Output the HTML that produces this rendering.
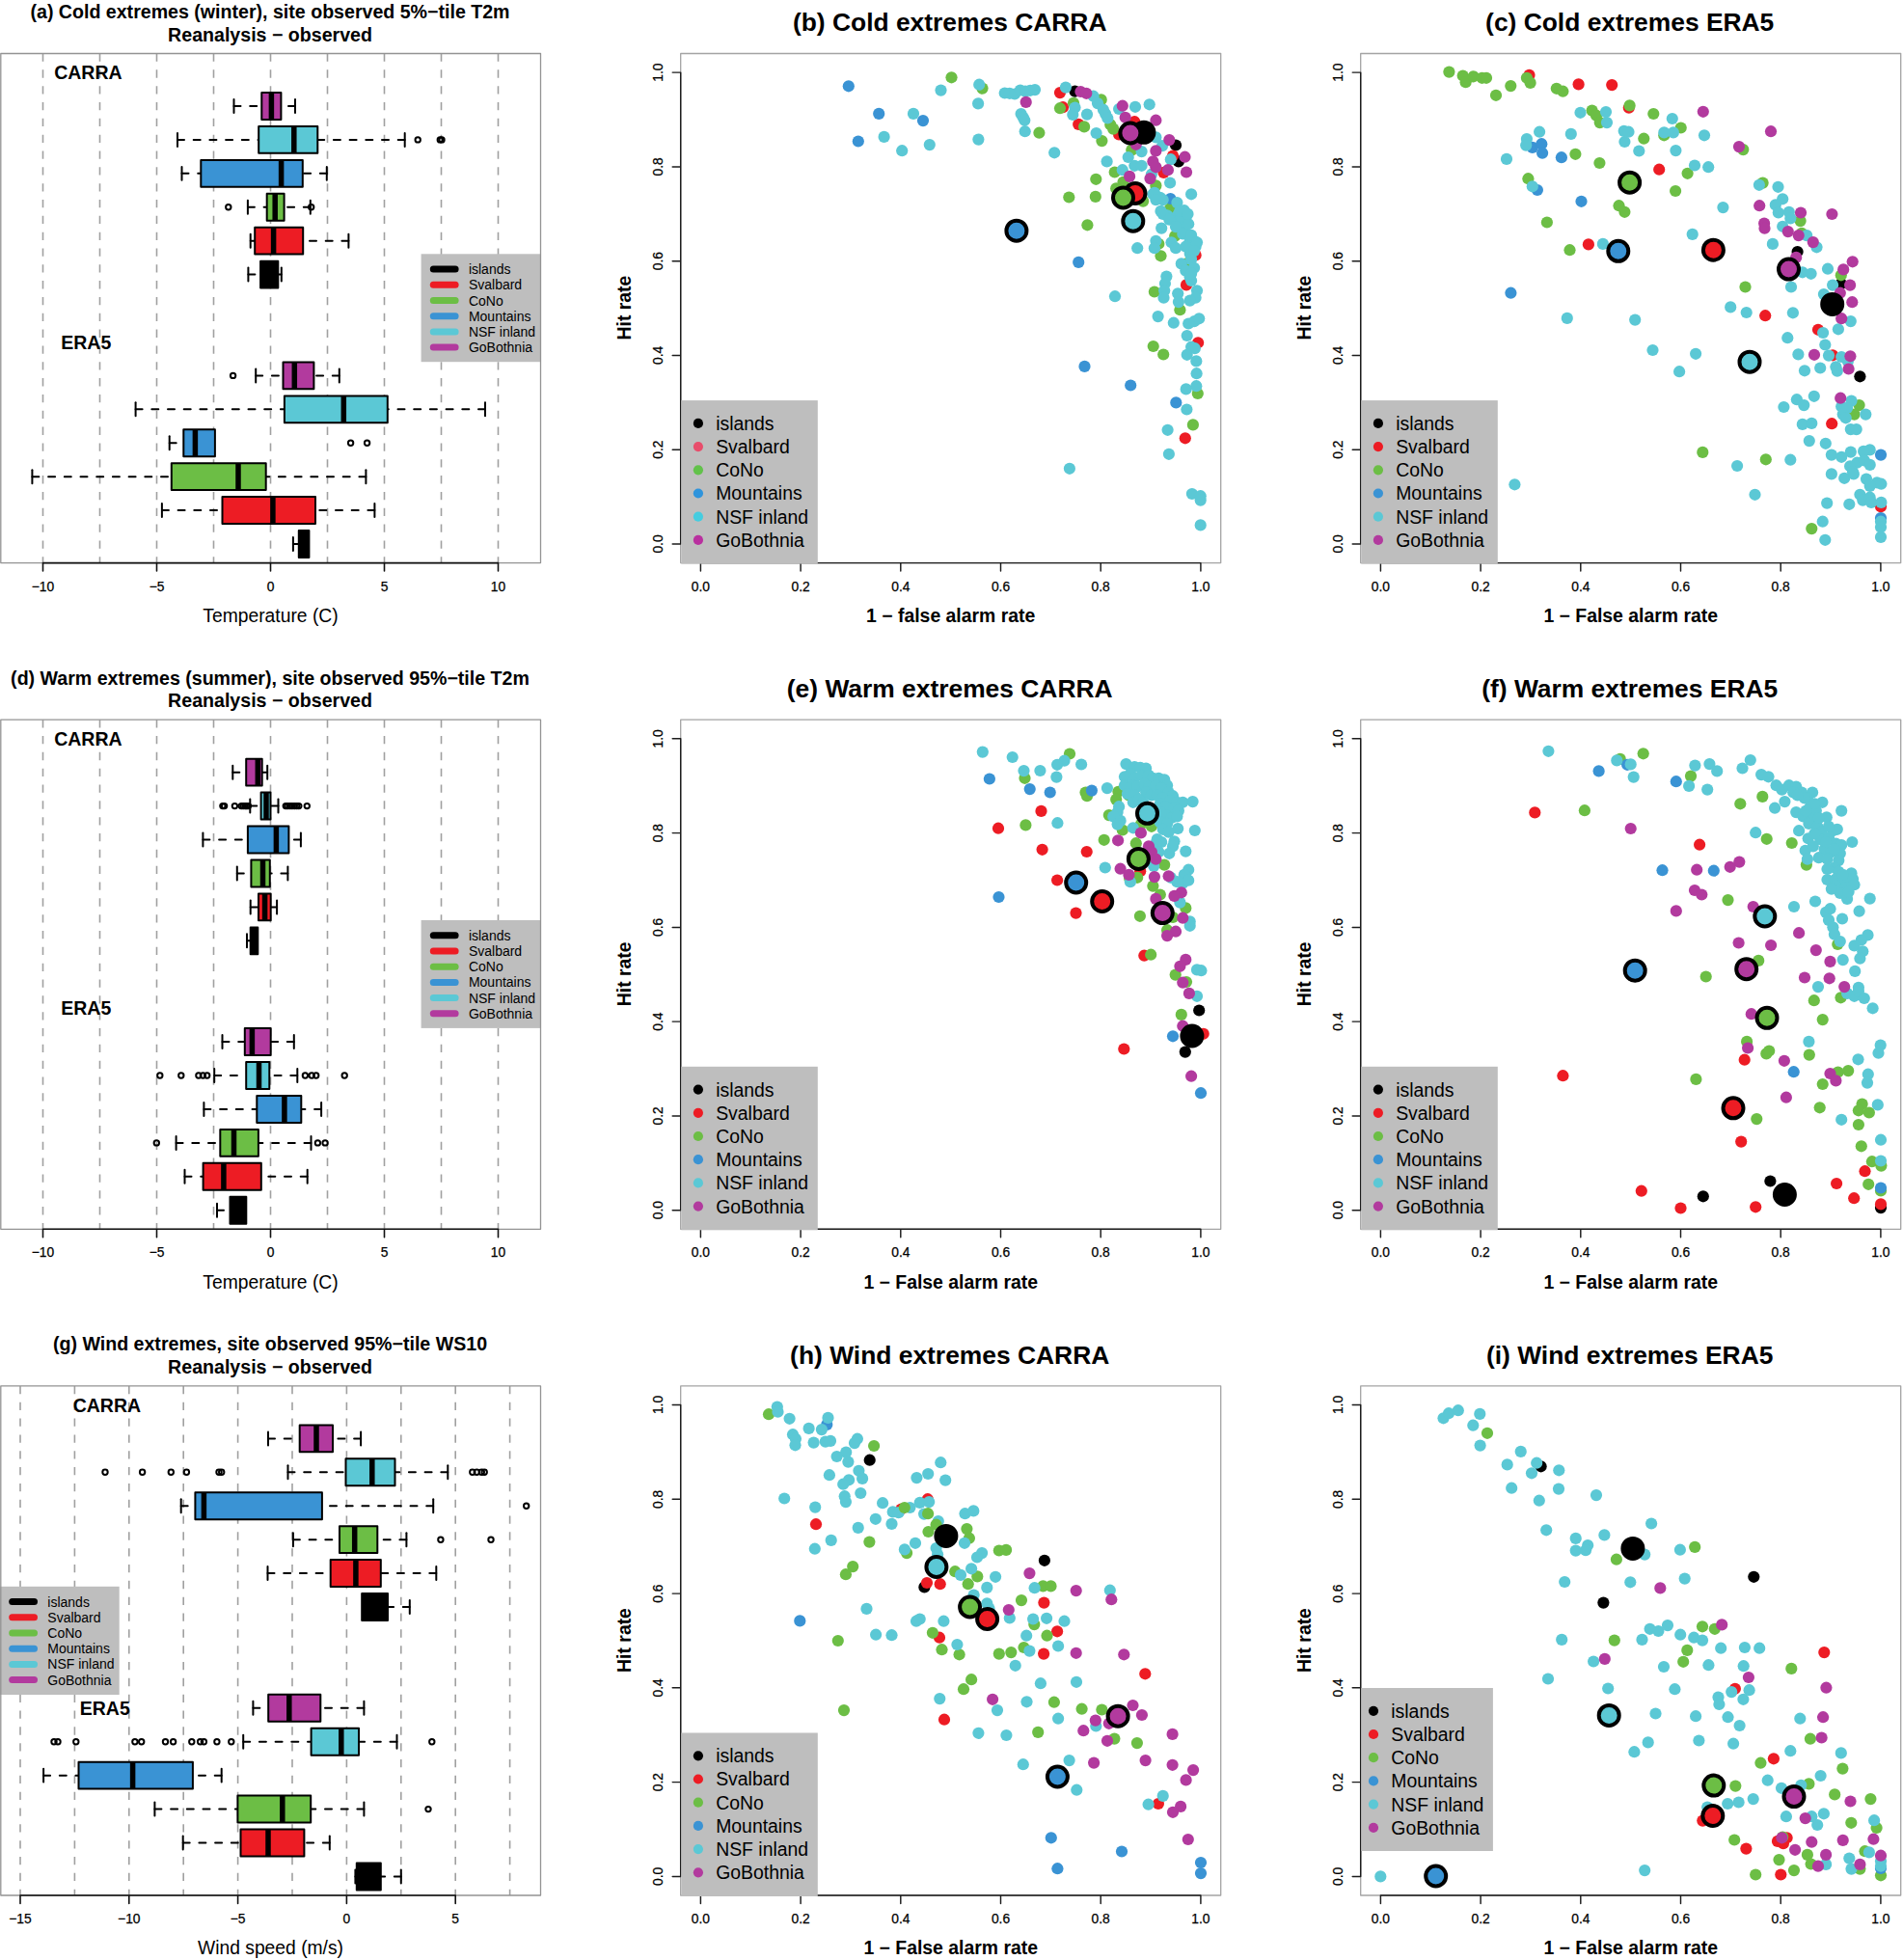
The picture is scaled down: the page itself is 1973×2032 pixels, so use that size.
<!DOCTYPE html>
<html lang="en"><head><meta charset="utf-8"><title>Extremes verification: CARRA vs ERA5</title>
<style>html,body{margin:0;padding:0;background:#fff}body{width:1973px;height:2032px;overflow:hidden}svg{display:block}text{font-family:"Liberation Sans", Arial, Helvetica, sans-serif;fill:#000}.b{font-weight:bold}.t1{font-size:19.6px;font-weight:bold;text-anchor:middle}.t2{font-size:26.4px;font-weight:bold;text-anchor:middle}.ax{font-size:13.8px;text-anchor:middle;stroke:#000;stroke-width:.25px}.xl{font-size:19.3px;text-anchor:middle}.bl{font-size:19.4px;font-weight:bold;text-anchor:middle}.l1{font-size:14px}.l2{font-size:19.4px}.lab{font-size:19.5px;font-weight:bold;text-anchor:middle}.gr{stroke:#a0a0a0;stroke-width:1.6;stroke-dasharray:8.3 8.53;fill:none}.bx{stroke:#000;stroke-width:2;stroke-linejoin:round}.md{stroke:#000;stroke-width:5.5;stroke-linecap:butt}.wh{stroke:#000;stroke-width:2;stroke-dasharray:7 9.7;stroke-linecap:round;fill:none}.st{stroke:#000;stroke-width:2;stroke-linecap:round}.ol{stroke:#000;stroke-width:2;fill:none}.fr{stroke:#a4a4a4;stroke-width:1.3;fill:none;stroke-linejoin:round}.fb{stroke:#939393;stroke-width:1.3;fill:none;stroke-linejoin:round}.al{stroke:#111;stroke-width:1.6;fill:none;stroke-linecap:round}.as{stroke:#1c1c1c;stroke-width:1.45;fill:none;stroke-linecap:round}.bg{stroke:#000;stroke-width:4}</style></head><body>
<svg width="1973" height="2032" viewBox="0 0 1973 2032">
<rect width="1973" height="2032" fill="#fff"/>
<g id="panel-a">
<text class="t1" x="280" y="19">(a) Cold extremes (winter), site observed 5%−tile T2m</text>
<text class="t1" x="280" y="42.5">Reanalysis − observed</text>
<path class="gr" d="M44.5 55.5V583.6M103.5 55.5V583.6M162.5 55.5V583.6M221.5 55.5V583.6M280.5 55.5V583.6M339.5 55.5V583.6M398.5 55.5V583.6M457.5 55.5V583.6M516.5 55.5V583.6"/>
<text class="lab" x="91.4" y="82.1">CARRA</text>
<text class="lab" x="89.3" y="361.5">ERA5</text>
<path class="wh" d="M242.5 110H271.3"/>
<path class="st" d="M242.5 103V117"/>
<path class="wh" d="M306 110H291.4"/>
<path class="st" d="M306 103V117"/>
<rect class="bx" x="271.3" y="96" width="20.1" height="27.9" fill="#b23a9e"/>
<path class="md" d="M281.4 96V124"/>
<path class="wh" d="M184 144.9H268.2"/>
<path class="st" d="M184 137.9V151.9"/>
<path class="wh" d="M419.7 144.9H329.4"/>
<path class="st" d="M419.7 137.9V151.9"/>
<rect class="bx" x="268.2" y="130.9" width="61.1" height="27.9" fill="#5bc8d5"/>
<path class="md" d="M304.8 130.9V158.9"/>
<circle class="ol" cx="433.2" cy="144.9" r="2.7"/>
<circle class="ol" cx="456.3" cy="144.9" r="2.7"/>
<circle class="ol" cx="458" cy="144.9" r="2.7"/>
<path class="wh" d="M188.5 179.8H208.3"/>
<path class="st" d="M188.5 172.9V186.8"/>
<path class="wh" d="M338.8 179.8H313.8"/>
<path class="st" d="M338.8 172.9V186.8"/>
<rect class="bx" x="208.3" y="165.9" width="105.5" height="27.9" fill="#3a93d4"/>
<path class="md" d="M291.6 165.9V193.8"/>
<path class="wh" d="M256.9 214.8H276.7"/>
<path class="st" d="M256.9 207.8V221.8"/>
<path class="wh" d="M321.8 214.8H294.7"/>
<path class="st" d="M321.8 207.8V221.8"/>
<rect class="bx" x="276.7" y="200.8" width="17.9" height="27.9" fill="#6cbe45"/>
<path class="md" d="M285.2 200.8V228.7"/>
<circle class="ol" cx="236.8" cy="214.8" r="2.7"/>
<circle class="ol" cx="322.7" cy="214.8" r="2.7"/>
<path class="wh" d="M259.7 249.7H264.2"/>
<path class="st" d="M259.7 242.7V256.7"/>
<path class="wh" d="M361.4 249.7H314.2"/>
<path class="st" d="M361.4 242.7V256.7"/>
<rect class="bx" x="264.2" y="235.7" width="50" height="27.9" fill="#ed1c24"/>
<path class="md" d="M283.6 235.7V263.7"/>
<path class="wh" d="M257.4 284.6H270.1"/>
<path class="st" d="M257.4 277.6V291.6"/>
<path class="wh" d="M291.8 284.6H288.3"/>
<path class="st" d="M291.8 277.6V291.6"/>
<rect class="bx" x="270.1" y="270.7" width="18.2" height="27.9" fill="#000000"/>
<path class="md" d="M279.3 270.7V298.6"/>
<path class="wh" d="M265.2 389.4H293.5"/>
<path class="st" d="M265.2 382.4V396.4"/>
<path class="wh" d="M351.8 389.4H325.3"/>
<path class="st" d="M351.8 382.4V396.4"/>
<rect class="bx" x="293.5" y="375.4" width="31.9" height="27.9" fill="#b23a9e"/>
<path class="md" d="M305.3 375.4V403.4"/>
<circle class="ol" cx="241.6" cy="389.4" r="2.7"/>
<path class="wh" d="M140.6 424.3H294.9"/>
<path class="st" d="M140.6 417.3V431.3"/>
<path class="wh" d="M503 424.3H401.8"/>
<path class="st" d="M503 417.3V431.3"/>
<rect class="bx" x="294.9" y="410.4" width="106.9" height="27.9" fill="#5bc8d5"/>
<path class="md" d="M356.3 410.4V438.3"/>
<path class="wh" d="M175.7 459.3H190.3"/>
<path class="st" d="M175.7 452.3V466.2"/>
<rect class="bx" x="190.3" y="445.3" width="32.6" height="27.9" fill="#3a93d4"/>
<path class="md" d="M202.4 445.3V473.2"/>
<circle class="ol" cx="363.6" cy="459.3" r="2.7"/>
<circle class="ol" cx="380.6" cy="459.3" r="2.7"/>
<path class="wh" d="M33.4 494.2H177.8"/>
<path class="st" d="M33.4 487.2V501.2"/>
<path class="wh" d="M379.4 494.2H275.8"/>
<path class="st" d="M379.4 487.2V501.2"/>
<rect class="bx" x="177.8" y="480.2" width="97.9" height="27.9" fill="#6cbe45"/>
<path class="md" d="M247 480.2V508.2"/>
<path class="wh" d="M167.9 529.1H230.5"/>
<path class="st" d="M167.9 522.1V536.1"/>
<path class="wh" d="M388.4 529.1H327"/>
<path class="st" d="M388.4 522.1V536.1"/>
<rect class="bx" x="230.5" y="515.1" width="96.5" height="27.9" fill="#ed1c24"/>
<path class="md" d="M282.9 515.1V543.1"/>
<path class="wh" d="M303.9 564H309.8"/>
<path class="st" d="M303.9 557.1V571"/>
<rect class="bx" x="309.8" y="550.1" width="10.6" height="27.9" fill="#000000"/>
<path class="md" d="M315.9 550.1V578"/>
<rect x="436.6" y="263.3" width="124.4" height="111.9" fill="#bebebe"/>
<path d="M449.3 279.1H472.1" stroke="#000000" stroke-width="7" stroke-linecap="round"/>
<text class="l1" x="485.9" y="284.1">islands</text>
<path d="M449.3 295.3H472.1" stroke="#ed1c24" stroke-width="7" stroke-linecap="round"/>
<text class="l1" x="485.9" y="300.3">Svalbard</text>
<path d="M449.3 311.5H472.1" stroke="#6cbe45" stroke-width="7" stroke-linecap="round"/>
<text class="l1" x="485.9" y="316.5">CoNo</text>
<path d="M449.3 327.7H472.1" stroke="#3a93d4" stroke-width="7" stroke-linecap="round"/>
<text class="l1" x="485.9" y="332.7">Mountains</text>
<path d="M449.3 343.9H472.1" stroke="#5bc8d5" stroke-width="7" stroke-linecap="round"/>
<text class="l1" x="485.9" y="348.9">NSF inland</text>
<path d="M449.3 360.1H472.1" stroke="#b23a9e" stroke-width="7" stroke-linecap="round"/>
<text class="l1" x="485.9" y="365.1">GoBothnia</text>
<rect class="fb" x="0.8" y="55.5" width="559.7" height="528.1"/>
<path class="al" d="M44.5 583.6H516.5M44.5 583.6v8.4M162.5 583.6v8.4M280.5 583.6v8.4M398.5 583.6v8.4M516.5 583.6v8.4"/>
<text class="ax" x="44.5" y="612.5">−10</text>
<text class="ax" x="162.5" y="612.5">−5</text>
<text class="ax" x="280.5" y="612.5">0</text>
<text class="ax" x="398.5" y="612.5">5</text>
<text class="ax" x="516.5" y="612.5">10</text>
<text class="xl" x="280.5" y="645">Temperature (C)</text>
</g>
<g id="panel-d">
<text class="t1" x="280" y="709.7">(d) Warm extremes (summer), site observed 95%−tile T2m</text>
<text class="t1" x="280" y="733.2">Reanalysis − observed</text>
<path class="gr" d="M44.5 746.2V1274.3M103.5 746.2V1274.3M162.5 746.2V1274.3M221.5 746.2V1274.3M280.5 746.2V1274.3M339.5 746.2V1274.3M398.5 746.2V1274.3M457.5 746.2V1274.3M516.5 746.2V1274.3"/>
<text class="lab" x="91.4" y="772.8">CARRA</text>
<text class="lab" x="89.3" y="1052.2">ERA5</text>
<path class="wh" d="M241.3 800.7H255.2"/>
<path class="st" d="M241.3 793.7V807.7"/>
<path class="wh" d="M277.2 800.7H271.8"/>
<path class="st" d="M277.2 793.7V807.7"/>
<rect class="bx" x="255.2" y="786.7" width="16.5" height="27.9" fill="#b23a9e"/>
<path class="md" d="M267.3 786.7V814.7"/>
<path class="wh" d="M259.3 835.6H270.6"/>
<path class="st" d="M259.3 828.6V842.6"/>
<path class="wh" d="M288.5 835.6H280.5"/>
<path class="st" d="M288.5 828.6V842.6"/>
<rect class="bx" x="270.6" y="821.6" width="9.9" height="27.9" fill="#5bc8d5"/>
<path class="md" d="M276 821.6V849.6"/>
<circle class="ol" cx="230.9" cy="835.6" r="2.7"/>
<circle class="ol" cx="232.6" cy="835.6" r="2.7"/>
<circle class="ol" cx="243.4" cy="835.6" r="2.7"/>
<circle class="ol" cx="250.3" cy="835.6" r="2.7"/>
<circle class="ol" cx="252.2" cy="835.6" r="2.7"/>
<circle class="ol" cx="254.1" cy="835.6" r="2.7"/>
<circle class="ol" cx="255.7" cy="835.6" r="2.7"/>
<circle class="ol" cx="257.4" cy="835.6" r="2.7"/>
<circle class="ol" cx="296.3" cy="835.6" r="2.7"/>
<circle class="ol" cx="298.2" cy="835.6" r="2.7"/>
<circle class="ol" cx="300.6" cy="835.6" r="2.7"/>
<circle class="ol" cx="302.9" cy="835.6" r="2.7"/>
<circle class="ol" cx="305.3" cy="835.6" r="2.7"/>
<circle class="ol" cx="307.6" cy="835.6" r="2.7"/>
<circle class="ol" cx="309.8" cy="835.6" r="2.7"/>
<circle class="ol" cx="318.3" cy="835.6" r="2.7"/>
<path class="wh" d="M210.4 870.5H256.9"/>
<path class="st" d="M210.4 863.6V877.5"/>
<path class="wh" d="M311.9 870.5H299.4"/>
<path class="st" d="M311.9 863.6V877.5"/>
<rect class="bx" x="256.9" y="856.6" width="42.5" height="27.9" fill="#3a93d4"/>
<path class="md" d="M286.4 856.6V884.5"/>
<path class="wh" d="M245.8 905.5H260.4"/>
<path class="st" d="M245.8 898.5V912.5"/>
<path class="wh" d="M298.4 905.5H279.8"/>
<path class="st" d="M298.4 898.5V912.5"/>
<rect class="bx" x="260.4" y="891.5" width="19.4" height="27.9" fill="#6cbe45"/>
<path class="md" d="M272.5 891.5V919.4"/>
<path class="wh" d="M259.7 940.4H268"/>
<path class="st" d="M259.7 933.4V947.4"/>
<path class="wh" d="M287.1 940.4H280.7"/>
<path class="st" d="M287.1 933.4V947.4"/>
<rect class="bx" x="268" y="926.4" width="12.7" height="27.9" fill="#ed1c24"/>
<path class="md" d="M274.6 926.4V954.4"/>
<path class="wh" d="M256 975.3H259.7"/>
<path class="st" d="M256 968.3V982.3"/>
<rect class="bx" x="259.7" y="961.4" width="7.6" height="27.9" fill="#000000"/>
<path class="md" d="M264 961.4V989.3"/>
<path class="wh" d="M230.5 1080.1H253.8"/>
<path class="st" d="M230.5 1073.1V1087.1"/>
<path class="wh" d="M304.8 1080.1H280.7"/>
<path class="st" d="M304.8 1073.1V1087.1"/>
<rect class="bx" x="253.8" y="1066.1" width="26.9" height="27.9" fill="#b23a9e"/>
<path class="md" d="M261.4 1066.1V1094.1"/>
<path class="wh" d="M222.2 1115H255.2"/>
<path class="st" d="M222.2 1108V1122"/>
<path class="wh" d="M308.3 1115H279.3"/>
<path class="st" d="M308.3 1108V1122"/>
<rect class="bx" x="255.2" y="1101.1" width="24.1" height="27.9" fill="#5bc8d5"/>
<path class="md" d="M268.5 1101.1V1129"/>
<circle class="ol" cx="165.8" cy="1115" r="2.7"/>
<circle class="ol" cx="187.8" cy="1115" r="2.7"/>
<circle class="ol" cx="205.9" cy="1115" r="2.7"/>
<circle class="ol" cx="210.4" cy="1115" r="2.7"/>
<circle class="ol" cx="214.7" cy="1115" r="2.7"/>
<circle class="ol" cx="316.4" cy="1115" r="2.7"/>
<circle class="ol" cx="323.2" cy="1115" r="2.7"/>
<circle class="ol" cx="327.7" cy="1115" r="2.7"/>
<circle class="ol" cx="357.2" cy="1115" r="2.7"/>
<path class="wh" d="M211.4 1150H266.3"/>
<path class="st" d="M211.4 1143V1156.9"/>
<path class="wh" d="M333.1 1150H312.4"/>
<path class="st" d="M333.1 1143V1156.9"/>
<rect class="bx" x="266.3" y="1136" width="46" height="27.9" fill="#3a93d4"/>
<path class="md" d="M294.9 1136V1163.9"/>
<path class="wh" d="M182.6 1184.9H228.3"/>
<path class="st" d="M182.6 1177.9V1191.9"/>
<path class="wh" d="M322.5 1184.9H268"/>
<path class="st" d="M322.5 1177.9V1191.9"/>
<rect class="bx" x="228.3" y="1170.9" width="39.6" height="27.9" fill="#6cbe45"/>
<path class="md" d="M242.5 1170.9V1198.9"/>
<circle class="ol" cx="162.3" cy="1184.9" r="2.7"/>
<circle class="ol" cx="329.4" cy="1184.9" r="2.7"/>
<circle class="ol" cx="337.1" cy="1184.9" r="2.7"/>
<path class="wh" d="M191.5 1219.8H210.6"/>
<path class="st" d="M191.5 1212.8V1226.8"/>
<path class="wh" d="M318.7 1219.8H270.8"/>
<path class="st" d="M318.7 1212.8V1226.8"/>
<rect class="bx" x="210.6" y="1205.8" width="60.2" height="27.9" fill="#ed1c24"/>
<path class="md" d="M231.9 1205.8V1233.8"/>
<path class="wh" d="M225 1254.7H238.5"/>
<path class="st" d="M225 1247.8V1261.7"/>
<rect class="bx" x="238.5" y="1240.8" width="16.8" height="27.9" fill="#000000"/>
<path class="md" d="M247.5 1240.8V1268.7"/>
<rect x="436.6" y="954" width="124.4" height="111.9" fill="#bebebe"/>
<path d="M449.3 969.8H472.1" stroke="#000000" stroke-width="7" stroke-linecap="round"/>
<text class="l1" x="485.9" y="974.8">islands</text>
<path d="M449.3 986H472.1" stroke="#ed1c24" stroke-width="7" stroke-linecap="round"/>
<text class="l1" x="485.9" y="991">Svalbard</text>
<path d="M449.3 1002.2H472.1" stroke="#6cbe45" stroke-width="7" stroke-linecap="round"/>
<text class="l1" x="485.9" y="1007.2">CoNo</text>
<path d="M449.3 1018.4H472.1" stroke="#3a93d4" stroke-width="7" stroke-linecap="round"/>
<text class="l1" x="485.9" y="1023.4">Mountains</text>
<path d="M449.3 1034.6H472.1" stroke="#5bc8d5" stroke-width="7" stroke-linecap="round"/>
<text class="l1" x="485.9" y="1039.6">NSF inland</text>
<path d="M449.3 1050.8H472.1" stroke="#b23a9e" stroke-width="7" stroke-linecap="round"/>
<text class="l1" x="485.9" y="1055.8">GoBothnia</text>
<rect class="fb" x="0.8" y="746.2" width="559.7" height="528.1"/>
<path class="al" d="M44.5 1274.3H516.5M44.5 1274.3v8.4M162.5 1274.3v8.4M280.5 1274.3v8.4M398.5 1274.3v8.4M516.5 1274.3v8.4"/>
<text class="ax" x="44.5" y="1303.2">−10</text>
<text class="ax" x="162.5" y="1303.2">−5</text>
<text class="ax" x="280.5" y="1303.2">0</text>
<text class="ax" x="398.5" y="1303.2">5</text>
<text class="ax" x="516.5" y="1303.2">10</text>
<text class="xl" x="280.5" y="1335.7">Temperature (C)</text>
</g>
<g id="panel-g">
<text class="t1" x="280" y="1400.4">(g) Wind extremes, site observed 95%−tile WS10</text>
<text class="t1" x="280" y="1423.9">Reanalysis − observed</text>
<path class="gr" d="M21 1436.9V1965M77.4 1436.9V1965M133.8 1436.9V1965M190.2 1436.9V1965M246.6 1436.9V1965M303 1436.9V1965M359.4 1436.9V1965M415.8 1436.9V1965M472.2 1436.9V1965M528.6 1436.9V1965"/>
<text class="lab" x="110.9" y="1463.5">CARRA</text>
<text class="lab" x="108.8" y="1777.8">ERA5</text>
<path class="wh" d="M278 1491.4H310.7"/>
<path class="st" d="M278 1484.4V1498.4"/>
<path class="wh" d="M374.1 1491.4H345"/>
<path class="st" d="M374.1 1484.4V1498.4"/>
<rect class="bx" x="310.7" y="1477.4" width="34.3" height="27.9" fill="#b23a9e"/>
<path class="md" d="M328 1477.4V1505.4"/>
<path class="wh" d="M298.5 1526.3H358.5"/>
<path class="st" d="M298.5 1519.3V1533.3"/>
<path class="wh" d="M464.3 1526.3H409.5"/>
<path class="st" d="M464.3 1519.3V1533.3"/>
<rect class="bx" x="358.5" y="1512.3" width="51" height="27.9" fill="#5bc8d5"/>
<path class="md" d="M385.8 1512.3V1540.3"/>
<circle class="ol" cx="109" cy="1526.3" r="2.7"/>
<circle class="ol" cx="147.6" cy="1526.3" r="2.7"/>
<circle class="ol" cx="177.3" cy="1526.3" r="2.7"/>
<circle class="ol" cx="193.4" cy="1526.3" r="2.7"/>
<circle class="ol" cx="227" cy="1526.3" r="2.7"/>
<circle class="ol" cx="229.7" cy="1526.3" r="2.7"/>
<circle class="ol" cx="489.8" cy="1526.3" r="2.7"/>
<circle class="ol" cx="494.3" cy="1526.3" r="2.7"/>
<circle class="ol" cx="499.3" cy="1526.3" r="2.7"/>
<circle class="ol" cx="502.2" cy="1526.3" r="2.7"/>
<path class="wh" d="M187.7 1561.2H202.4"/>
<path class="st" d="M187.7 1554.3V1568.2"/>
<path class="wh" d="M449.2 1561.2H333.9"/>
<path class="st" d="M449.2 1554.3V1568.2"/>
<rect class="bx" x="202.4" y="1547.3" width="131.5" height="27.9" fill="#3a93d4"/>
<path class="md" d="M211.4 1547.3V1575.2"/>
<circle class="ol" cx="545.7" cy="1561.2" r="2.7"/>
<path class="wh" d="M303.9 1596.2H352"/>
<path class="st" d="M303.9 1589.2V1603.2"/>
<path class="wh" d="M421.4 1596.2H391.2"/>
<path class="st" d="M421.4 1589.2V1603.2"/>
<rect class="bx" x="352" y="1582.2" width="39.3" height="27.9" fill="#6cbe45"/>
<path class="md" d="M367.7 1582.2V1610.1"/>
<circle class="ol" cx="456.9" cy="1596.2" r="2.7"/>
<circle class="ol" cx="509" cy="1596.2" r="2.7"/>
<path class="wh" d="M277.5 1631.1H342.7"/>
<path class="st" d="M277.5 1624.1V1638.1"/>
<path class="wh" d="M452.3 1631.1H394.8"/>
<path class="st" d="M452.3 1624.1V1638.1"/>
<rect class="bx" x="342.7" y="1617.1" width="52.1" height="27.9" fill="#ed1c24"/>
<path class="md" d="M368.9 1617.1V1645.1"/>
<path class="wh" d="M424.8 1666H402"/>
<path class="st" d="M424.8 1659V1673"/>
<rect class="bx" x="375.2" y="1652.1" width="26.8" height="27.9" fill="#000000"/>
<path class="md" d="M386.5 1652.1V1680"/>
<path class="wh" d="M262.4 1770.8H278.2"/>
<path class="st" d="M262.4 1763.8V1777.8"/>
<path class="wh" d="M377.4 1770.8H332.3"/>
<path class="st" d="M377.4 1763.8V1777.8"/>
<rect class="bx" x="278.2" y="1756.8" width="54.1" height="27.9" fill="#b23a9e"/>
<path class="md" d="M299.8 1756.8V1784.8"/>
<path class="wh" d="M252.2 1805.7H322.6"/>
<path class="st" d="M252.2 1798.7V1812.7"/>
<path class="wh" d="M411.5 1805.7H372"/>
<path class="st" d="M411.5 1798.7V1812.7"/>
<rect class="bx" x="322.6" y="1791.8" width="49.4" height="27.9" fill="#5bc8d5"/>
<path class="md" d="M353.8 1791.8V1819.7"/>
<circle class="ol" cx="56" cy="1805.7" r="2.7"/>
<circle class="ol" cx="60" cy="1805.7" r="2.7"/>
<circle class="ol" cx="78.8" cy="1805.7" r="2.7"/>
<circle class="ol" cx="139.9" cy="1805.7" r="2.7"/>
<circle class="ol" cx="146.7" cy="1805.7" r="2.7"/>
<circle class="ol" cx="171.5" cy="1805.7" r="2.7"/>
<circle class="ol" cx="179.6" cy="1805.7" r="2.7"/>
<circle class="ol" cx="198.8" cy="1805.7" r="2.7"/>
<circle class="ol" cx="207.6" cy="1805.7" r="2.7"/>
<circle class="ol" cx="211.4" cy="1805.7" r="2.7"/>
<circle class="ol" cx="224.9" cy="1805.7" r="2.7"/>
<circle class="ol" cx="239.8" cy="1805.7" r="2.7"/>
<circle class="ol" cx="447.8" cy="1805.7" r="2.7"/>
<path class="wh" d="M45.1 1840.7H81.5"/>
<path class="st" d="M45.1 1833.7V1847.6"/>
<path class="wh" d="M229.7 1840.7H199.9"/>
<path class="st" d="M229.7 1833.7V1847.6"/>
<rect class="bx" x="81.5" y="1826.7" width="118.4" height="27.9" fill="#3a93d4"/>
<path class="md" d="M137.6 1826.7V1854.6"/>
<path class="wh" d="M160.4 1875.6H246.4"/>
<path class="st" d="M160.4 1868.6V1882.6"/>
<path class="wh" d="M377.4 1875.6H322.2"/>
<path class="st" d="M377.4 1868.6V1882.6"/>
<rect class="bx" x="246.4" y="1861.6" width="75.8" height="27.9" fill="#6cbe45"/>
<path class="md" d="M292.8 1861.6V1889.6"/>
<circle class="ol" cx="444" cy="1875.6" r="2.7"/>
<path class="wh" d="M189.7 1910.5H249.5"/>
<path class="st" d="M189.7 1903.5V1917.5"/>
<path class="wh" d="M341.8 1910.5H315.4"/>
<path class="st" d="M341.8 1903.5V1917.5"/>
<rect class="bx" x="249.5" y="1896.5" width="65.9" height="27.9" fill="#ed1c24"/>
<path class="md" d="M278 1896.5V1924.5"/>
<path class="wh" d="M368.4 1945.4H369.8"/>
<path class="st" d="M368.4 1938.5V1952.4"/>
<path class="wh" d="M415.8 1945.4H394.8"/>
<path class="st" d="M415.8 1938.5V1952.4"/>
<rect class="bx" x="369.8" y="1931.5" width="25" height="27.9" fill="#000000"/>
<path class="md" d="M382 1931.5V1959.4"/>
<rect x="0" y="1644.8" width="123.7" height="112.2" fill="#bebebe"/>
<path d="M12.7 1660.6H35.5" stroke="#000000" stroke-width="7" stroke-linecap="round"/>
<text class="l1" x="49.3" y="1665.6">islands</text>
<path d="M12.7 1676.8H35.5" stroke="#ed1c24" stroke-width="7" stroke-linecap="round"/>
<text class="l1" x="49.3" y="1681.8">Svalbard</text>
<path d="M12.7 1693H35.5" stroke="#6cbe45" stroke-width="7" stroke-linecap="round"/>
<text class="l1" x="49.3" y="1698">CoNo</text>
<path d="M12.7 1709.2H35.5" stroke="#3a93d4" stroke-width="7" stroke-linecap="round"/>
<text class="l1" x="49.3" y="1714.2">Mountains</text>
<path d="M12.7 1725.4H35.5" stroke="#5bc8d5" stroke-width="7" stroke-linecap="round"/>
<text class="l1" x="49.3" y="1730.4">NSF inland</text>
<path d="M12.7 1741.6H35.5" stroke="#b23a9e" stroke-width="7" stroke-linecap="round"/>
<text class="l1" x="49.3" y="1746.6">GoBothnia</text>
<rect class="fb" x="0.8" y="1436.9" width="559.7" height="528.1"/>
<path class="al" d="M21 1965H472.2M21 1965v8.4M133.8 1965v8.4M246.6 1965v8.4M359.4 1965v8.4M472.2 1965v8.4"/>
<text class="ax" x="21" y="1993.9">−15</text>
<text class="ax" x="133.8" y="1993.9">−10</text>
<text class="ax" x="246.6" y="1993.9">−5</text>
<text class="ax" x="359.4" y="1993.9">0</text>
<text class="ax" x="472.2" y="1993.9">5</text>
<text class="xl" x="280.5" y="2026.4">Wind speed (m/s)</text>
</g>
<g id="panel-b">
<text class="t2" x="984.7" y="32.3">(b) Cold extremes CARRA</text>
<rect class="fr" x="705.7" y="55.5" width="560" height="528.1"/>
<path class="as" d="M726.4 583.6H1244.9M726.4 583.6v8.5M830.1 583.6v8.5M933.8 583.6v8.5M1037.5 583.6v8.5M1141.2 583.6v8.5M1244.9 583.6v8.5M705.7 564V75.1M705.7 564h-8.5M705.7 466.2h-8.5M705.7 368.4h-8.5M705.7 270.7h-8.5M705.7 172.9h-8.5M705.7 75.1h-8.5"/>
<g fill="#000000"><circle cx="1114.5" cy="94.6" r="6.1"/><circle cx="1219" cy="150.5" r="6.1"/><circle cx="1221.9" cy="167.4" r="6.1"/></g>
<g fill="#ed1c24"><circle cx="1099" cy="96.1" r="6.1"/><circle cx="1102" cy="111.2" r="6.1"/><circle cx="1118.2" cy="128.9" r="6.1"/><circle cx="1160.1" cy="139.5" r="6.1"/><circle cx="1176.3" cy="126.2" r="6.1"/><circle cx="1216" cy="161.5" r="6.1"/><circle cx="1206.5" cy="178.9" r="6.1"/><circle cx="1239.6" cy="264.5" r="6.1"/><circle cx="1230" cy="295.4" r="6.1"/><circle cx="1242.1" cy="355.3" r="6.1"/><circle cx="1228.8" cy="454.3" r="6.1"/></g>
<g fill="#6cbe45"><circle cx="986.5" cy="80.3" r="6.1"/><circle cx="1018.5" cy="91.6" r="6.1"/><circle cx="1077.4" cy="137.7" r="6.1"/><circle cx="1113" cy="106.8" r="6.1"/><circle cx="1099" cy="112.2" r="6.1"/><circle cx="1124.1" cy="131.4" r="6.1"/><circle cx="1141.7" cy="103.4" r="6.1"/><circle cx="1142.4" cy="146.1" r="6.1"/><circle cx="1151.3" cy="129.2" r="6.1"/><circle cx="1154.2" cy="133.6" r="6.1"/><circle cx="1173.3" cy="155.6" r="6.1"/><circle cx="1155.7" cy="178.5" r="6.1"/><circle cx="1136.3" cy="185.8" r="6.1"/><circle cx="1164.5" cy="188.8" r="6.1"/><circle cx="1198.4" cy="192.4" r="6.1"/><circle cx="1108.3" cy="204.5" r="6.1"/><circle cx="1135.8" cy="203.9" r="6.1"/><circle cx="1157.2" cy="195.4" r="6.1"/><circle cx="1185.1" cy="208.6" r="6.1"/><circle cx="1213.1" cy="216" r="6.1"/><circle cx="1127.4" cy="233.3" r="6.1"/><circle cx="1218.2" cy="244.7" r="6.1"/><circle cx="1201.3" cy="252.8" r="6.1"/><circle cx="1203.5" cy="265.3" r="6.1"/><circle cx="1230" cy="273.4" r="6.1"/><circle cx="1196.9" cy="302.5" r="6.1"/><circle cx="1223.4" cy="321.2" r="6.1"/><circle cx="1195.7" cy="359" r="6.1"/><circle cx="1206.2" cy="367.5" r="6.1"/><circle cx="1241.8" cy="408" r="6.1"/><circle cx="1236.9" cy="440.4" r="6.1"/></g>
<g fill="#3a93d4"><circle cx="1213.5" cy="206" r="6.1"/><circle cx="1118.2" cy="271.9" r="6.1"/><circle cx="1124.5" cy="379.9" r="6.1"/><circle cx="1172.2" cy="399.5" r="6.1"/><circle cx="1219.3" cy="417.4" r="6.1"/><circle cx="879.8" cy="89.3" r="6.1"/><circle cx="911.2" cy="117.9" r="6.1"/><circle cx="957" cy="125.1" r="6.1"/><circle cx="889.8" cy="146.5" r="6.1"/></g>
<g fill="#5bc8d5"><circle cx="1015.2" cy="87.7" r="6.1"/><circle cx="1014.1" cy="107.4" r="6.1"/><circle cx="1041.7" cy="96.5" r="6.1"/><circle cx="1046.8" cy="96.8" r="6.1"/><circle cx="1052" cy="97.5" r="6.1"/><circle cx="1057.8" cy="93.5" r="6.1"/><circle cx="1063" cy="94.6" r="6.1"/><circle cx="1068.1" cy="93.8" r="6.1"/><circle cx="1073" cy="93.1" r="6.1"/><circle cx="1058.6" cy="118.1" r="6.1"/><circle cx="1060.8" cy="121.8" r="6.1"/><circle cx="1062.3" cy="124.7" r="6.1"/><circle cx="1062.7" cy="136.2" r="6.1"/><circle cx="1014.4" cy="144.6" r="6.1"/><circle cx="1093.2" cy="158.3" r="6.1"/><circle cx="1104.9" cy="90.6" r="6.1"/><circle cx="1114.5" cy="111.5" r="6.1"/><circle cx="1112.3" cy="118.9" r="6.1"/><circle cx="1127" cy="118.6" r="6.1"/><circle cx="1133.6" cy="99.7" r="6.1"/><circle cx="1138" cy="107.1" r="6.1"/><circle cx="1143.9" cy="113.7" r="6.1"/><circle cx="1146.1" cy="118.1" r="6.1"/><circle cx="1148.3" cy="122.5" r="6.1"/><circle cx="1136.6" cy="138" r="6.1"/><circle cx="1177" cy="110.8" r="6.1"/><circle cx="1191.7" cy="108.3" r="6.1"/><circle cx="1160.1" cy="113" r="6.1"/><circle cx="1198.4" cy="142.4" r="6.1"/><circle cx="1205" cy="151.2" r="6.1"/><circle cx="1183.6" cy="157.1" r="6.1"/><circle cx="1213.8" cy="165.2" r="6.1"/><circle cx="1169.7" cy="163" r="6.1"/><circle cx="1147.6" cy="167.4" r="6.1"/><circle cx="1176.3" cy="171.8" r="6.1"/><circle cx="1183.6" cy="171.8" r="6.1"/><circle cx="1163.8" cy="176.2" r="6.1"/><circle cx="1193.9" cy="180.7" r="6.1"/><circle cx="1213.1" cy="189.5" r="6.1"/><circle cx="1235.1" cy="201.3" r="6.1"/><circle cx="1195.4" cy="201.3" r="6.1"/><circle cx="1202.8" cy="204.9" r="6.1"/><circle cx="1220.4" cy="210.1" r="6.1"/><circle cx="1203.5" cy="218.9" r="6.1"/><circle cx="1210.1" cy="223.3" r="6.1"/><circle cx="1216" cy="226.3" r="6.1"/><circle cx="1221.9" cy="221.9" r="6.1"/><circle cx="1227.8" cy="218.2" r="6.1"/><circle cx="1229.3" cy="224.8" r="6.1"/><circle cx="1226.3" cy="230.7" r="6.1"/><circle cx="1220.4" cy="230.7" r="6.1"/><circle cx="1204.2" cy="236.6" r="6.1"/><circle cx="1226.3" cy="238" r="6.1"/><circle cx="1232.2" cy="243.9" r="6.1"/><circle cx="1238.1" cy="249.8" r="6.1"/><circle cx="1235.1" cy="255.7" r="6.1"/><circle cx="1233.7" cy="263.1" r="6.1"/><circle cx="1198.4" cy="249.8" r="6.1"/><circle cx="1196.9" cy="257.2" r="6.1"/><circle cx="1214.5" cy="251.3" r="6.1"/><circle cx="1219" cy="257.2" r="6.1"/><circle cx="1179.2" cy="257.2" r="6.1"/><circle cx="1224.8" cy="273.4" r="6.1"/><circle cx="1229.3" cy="280.7" r="6.1"/><circle cx="1233.7" cy="287.3" r="6.1"/><circle cx="1235.1" cy="291" r="6.1"/><circle cx="1209.4" cy="286.6" r="6.1"/><circle cx="1207.9" cy="294" r="6.1"/><circle cx="1207.2" cy="301.3" r="6.1"/><circle cx="1206.5" cy="308.7" r="6.1"/><circle cx="1241" cy="301.3" r="6.1"/><circle cx="1239.6" cy="308.7" r="6.1"/><circle cx="1233.7" cy="311.6" r="6.1"/><circle cx="1221.2" cy="304.3" r="6.1"/><circle cx="1221.9" cy="313.1" r="6.1"/><circle cx="1156" cy="307.2" r="6.1"/><circle cx="1205.7" cy="221.9" r="6.1"/><circle cx="1212.3" cy="227.7" r="6.1"/><circle cx="1219" cy="235.1" r="6.1"/><circle cx="1224.8" cy="224.8" r="6.1"/><circle cx="1232.2" cy="232.2" r="6.1"/><circle cx="1226.3" cy="242.5" r="6.1"/><circle cx="1233.7" cy="249.8" r="6.1"/><circle cx="1239.6" cy="255.7" r="6.1"/><circle cx="1229.3" cy="255.7" r="6.1"/><circle cx="1235.1" cy="243.9" r="6.1"/><circle cx="1223.4" cy="218.9" r="6.1"/><circle cx="1231.5" cy="221.9" r="6.1"/><circle cx="1196.9" cy="199.8" r="6.1"/><circle cx="1205.7" cy="207.1" r="6.1"/><circle cx="1198.4" cy="207.1" r="6.1"/><circle cx="1241" cy="251.3" r="6.1"/><circle cx="1238.1" cy="260.1" r="6.1"/><circle cx="1235.1" cy="268.9" r="6.1"/><circle cx="1238.1" cy="277.8" r="6.1"/><circle cx="1235.1" cy="283.7" r="6.1"/><circle cx="1200.6" cy="328.1" r="6.1"/><circle cx="1216.8" cy="334.7" r="6.1"/><circle cx="1232.2" cy="335.5" r="6.1"/><circle cx="1238.1" cy="333.2" r="6.1"/><circle cx="1243.2" cy="330.3" r="6.1"/><circle cx="1230.7" cy="348" r="6.1"/><circle cx="1235.1" cy="359.7" r="6.1"/><circle cx="1238.8" cy="361.2" r="6.1"/><circle cx="1230.7" cy="367.8" r="6.1"/><circle cx="1240.3" cy="374.4" r="6.1"/><circle cx="1240.6" cy="387.2" r="6.1"/><circle cx="1240.3" cy="400.2" r="6.1"/><circle cx="1229.7" cy="403.4" r="6.1"/><circle cx="1230.4" cy="424.5" r="6.1"/><circle cx="1210.6" cy="445.8" r="6.1"/><circle cx="1211.9" cy="470.8" r="6.1"/><circle cx="1108.9" cy="485.8" r="6.1"/><circle cx="1235.9" cy="512" r="6.1"/><circle cx="1244.7" cy="514.2" r="6.1"/><circle cx="1244.7" cy="518.6" r="6.1"/><circle cx="1244.7" cy="544.4" r="6.1"/><circle cx="947" cy="117.9" r="6.1"/><circle cx="975.5" cy="93.6" r="6.1"/><circle cx="916.6" cy="141.9" r="6.1"/><circle cx="935.2" cy="156.2" r="6.1"/><circle cx="963.8" cy="150.1" r="6.1"/></g>
<g fill="#b23a9e"><circle cx="1063.7" cy="105.9" r="6.1"/><circle cx="1120.4" cy="95" r="6.1"/><circle cx="1126.3" cy="96.8" r="6.1"/><circle cx="1163.8" cy="109.7" r="6.1"/><circle cx="1166.7" cy="121.8" r="6.1"/><circle cx="1198.4" cy="124.7" r="6.1"/><circle cx="1212.3" cy="145.1" r="6.1"/><circle cx="1177.8" cy="149.8" r="6.1"/><circle cx="1198.4" cy="156.4" r="6.1"/><circle cx="1228.5" cy="162.7" r="6.1"/><circle cx="1195.4" cy="167.4" r="6.1"/><circle cx="1198.4" cy="173.3" r="6.1"/><circle cx="1171.1" cy="182.9" r="6.1"/><circle cx="1210.9" cy="176.2" r="6.1"/><circle cx="1230" cy="178.5" r="6.1"/><circle cx="1192.5" cy="185.1" r="6.1"/></g>
<circle class="bg" cx="1185.9" cy="137.3" r="10.5" fill="#000000"/>
<circle class="bg" cx="1177" cy="200.5" r="10.5" fill="#ed1c24"/>
<circle class="bg" cx="1164.5" cy="204.9" r="10.5" fill="#6cbe45"/>
<circle class="bg" cx="1053.9" cy="239.2" r="10.5" fill="#3a93d4"/>
<circle class="bg" cx="1174.8" cy="229.2" r="10.5" fill="#5bc8d5"/>
<circle class="bg" cx="1171.9" cy="138" r="10.5" fill="#b23a9e"/>
<rect x="706.3" y="415.1" width="141.5" height="169.5" fill="#bebebe"/>
<circle cx="723.9" cy="438.9" r="5.1" fill="#000000"/>
<text class="l2" x="742.2" y="445.8">islands</text>
<circle cx="723.9" cy="463.1" r="5.1" fill="#e84d6b"/>
<text class="l2" x="742.2" y="470">Svalbard</text>
<circle cx="723.9" cy="487.3" r="5.1" fill="#62c24a"/>
<text class="l2" x="742.2" y="494.2">CoNo</text>
<circle cx="723.9" cy="511.5" r="5.1" fill="#2f94dc"/>
<text class="l2" x="742.2" y="518.4">Mountains</text>
<circle cx="723.9" cy="535.7" r="5.1" fill="#45cde0"/>
<text class="l2" x="742.2" y="542.6">NSF inland</text>
<circle cx="723.9" cy="559.9" r="5.1" fill="#b9309f"/>
<text class="l2" x="742.2" y="566.8">GoBothnia</text>
<text class="ax" x="726.4" y="612.5">0.0</text>
<text class="ax" transform="translate(687.4 564) rotate(-90)">0.0</text>
<text class="ax" x="830.1" y="612.5">0.2</text>
<text class="ax" transform="translate(687.4 466.2) rotate(-90)">0.2</text>
<text class="ax" x="933.8" y="612.5">0.4</text>
<text class="ax" transform="translate(687.4 368.4) rotate(-90)">0.4</text>
<text class="ax" x="1037.5" y="612.5">0.6</text>
<text class="ax" transform="translate(687.4 270.7) rotate(-90)">0.6</text>
<text class="ax" x="1141.2" y="612.5">0.8</text>
<text class="ax" transform="translate(687.4 172.9) rotate(-90)">0.8</text>
<text class="ax" x="1244.9" y="612.5">1.0</text>
<text class="ax" transform="translate(687.4 75.1) rotate(-90)">1.0</text>
<text class="bl" x="985.7" y="645">1 − false alarm rate</text>
<text class="bl" transform="translate(653.9 319.1) rotate(-90)">Hit rate</text>
</g>
<g id="panel-c">
<text class="t2" x="1689.7" y="32.3">(c) Cold extremes ERA5</text>
<rect class="fr" x="1410.7" y="55.5" width="560" height="528.1"/>
<path class="as" d="M1431.4 583.6H1949.9M1431.4 583.6v8.5M1535.1 583.6v8.5M1638.8 583.6v8.5M1742.5 583.6v8.5M1846.2 583.6v8.5M1949.9 583.6v8.5M1410.7 564V75.1M1410.7 564h-8.5M1410.7 466.2h-8.5M1410.7 368.4h-8.5M1410.7 270.7h-8.5M1410.7 172.9h-8.5M1410.7 75.1h-8.5"/>
<g fill="#000000"><circle cx="1863.6" cy="261" r="6.1"/><circle cx="1908.8" cy="294.1" r="6.1"/><circle cx="1928.4" cy="390.3" r="6.1"/></g>
<g fill="#ed1c24"><circle cx="1585.5" cy="77.8" r="6.1"/><circle cx="1636.6" cy="87.4" r="6.1"/><circle cx="1671.2" cy="88.1" r="6.1"/><circle cx="1688.8" cy="111.7" r="6.1"/><circle cx="1646.9" cy="253.4" r="6.1"/><circle cx="1720.2" cy="175.7" r="6.1"/><circle cx="1830.2" cy="327.2" r="6.1"/><circle cx="1885" cy="341.8" r="6.1"/><circle cx="1900.1" cy="368.3" r="6.1"/><circle cx="1899.2" cy="439.2" r="6.1"/><circle cx="1950" cy="525.3" r="6.1"/></g>
<g fill="#6cbe45"><circle cx="1502.4" cy="74.6" r="6.1"/><circle cx="1516.7" cy="78.5" r="6.1"/><circle cx="1519.6" cy="85.2" r="6.1"/><circle cx="1527.7" cy="79.3" r="6.1"/><circle cx="1536.5" cy="80.8" r="6.1"/><circle cx="1541" cy="80.8" r="6.1"/><circle cx="1582.9" cy="80.8" r="6.1"/><circle cx="1586.6" cy="85.9" r="6.1"/><circle cx="1566.3" cy="89.1" r="6.1"/><circle cx="1551" cy="98.8" r="6.1"/><circle cx="1613.8" cy="91.8" r="6.1"/><circle cx="1620.4" cy="94.7" r="6.1"/><circle cx="1650.6" cy="114.6" r="6.1"/><circle cx="1655" cy="119.7" r="6.1"/><circle cx="1658.7" cy="127.1" r="6.1"/><circle cx="1689.6" cy="109.4" r="6.1"/><circle cx="1633.4" cy="159.8" r="6.1"/><circle cx="1658.4" cy="169" r="6.1"/><circle cx="1584.4" cy="185.2" r="6.1"/><circle cx="1678.5" cy="213.2" r="6.1"/><circle cx="1684.4" cy="219.8" r="6.1"/><circle cx="1603.9" cy="230.5" r="6.1"/><circle cx="1627.5" cy="259.2" r="6.1"/><circle cx="1714.3" cy="118" r="6.1"/><circle cx="1742.7" cy="132.5" r="6.1"/><circle cx="1725.3" cy="140.3" r="6.1"/><circle cx="1704.3" cy="143.7" r="6.1"/><circle cx="1807.3" cy="155.1" r="6.1"/><circle cx="1749.6" cy="179.8" r="6.1"/><circle cx="1737.1" cy="198" r="6.1"/><circle cx="1827.6" cy="189.6" r="6.1"/><circle cx="1866.6" cy="229.1" r="6.1"/><circle cx="1868" cy="241.9" r="6.1"/><circle cx="1908.8" cy="285.3" r="6.1"/><circle cx="1809.5" cy="297.5" r="6.1"/><circle cx="1927.6" cy="420.1" r="6.1"/><circle cx="1922.5" cy="429.6" r="6.1"/><circle cx="1765.3" cy="468.9" r="6.1"/><circle cx="1830.8" cy="476.3" r="6.1"/><circle cx="1878.3" cy="548.1" r="6.1"/></g>
<g fill="#3a93d4"><circle cx="1588.8" cy="152.9" r="6.1"/><circle cx="1598.3" cy="149.2" r="6.1"/><circle cx="1599.1" cy="158.7" r="6.1"/><circle cx="1618.9" cy="163.2" r="6.1"/><circle cx="1593.9" cy="197" r="6.1"/><circle cx="1639.5" cy="208.8" r="6.1"/><circle cx="1566.4" cy="303.7" r="6.1"/><circle cx="1950" cy="471.6" r="6.1"/><circle cx="1950" cy="537" r="6.1"/></g>
<g fill="#5bc8d5"><circle cx="1638.5" cy="116.8" r="6.1"/><circle cx="1665" cy="116.1" r="6.1"/><circle cx="1666" cy="127.1" r="6.1"/><circle cx="1596.1" cy="136.7" r="6.1"/><circle cx="1582.9" cy="144" r="6.1"/><circle cx="1582.2" cy="150.6" r="6.1"/><circle cx="1628.8" cy="138.9" r="6.1"/><circle cx="1683.7" cy="135.9" r="6.1"/><circle cx="1684.4" cy="147" r="6.1"/><circle cx="1562" cy="164.9" r="6.1"/><circle cx="1588.8" cy="193.3" r="6.1"/><circle cx="1661.9" cy="252.9" r="6.1"/><circle cx="1624.8" cy="329.9" r="6.1"/><circle cx="1570.4" cy="502.3" r="6.1"/><circle cx="1733.8" cy="123" r="6.1"/><circle cx="1725.3" cy="137.4" r="6.1"/><circle cx="1734.9" cy="137.4" r="6.1"/><circle cx="1767" cy="140.3" r="6.1"/><circle cx="1688.5" cy="136.7" r="6.1"/><circle cx="1699.3" cy="156.5" r="6.1"/><circle cx="1737.4" cy="156.1" r="6.1"/><circle cx="1757" cy="171.5" r="6.1"/><circle cx="1771.2" cy="173.2" r="6.1"/><circle cx="1823.9" cy="191.8" r="6.1"/><circle cx="1843.5" cy="193.8" r="6.1"/><circle cx="1786.4" cy="215.1" r="6.1"/><circle cx="1848.2" cy="206.3" r="6.1"/><circle cx="1840.8" cy="212.4" r="6.1"/><circle cx="1843.8" cy="220.5" r="6.1"/><circle cx="1854.8" cy="219.8" r="6.1"/><circle cx="1856.3" cy="226.4" r="6.1"/><circle cx="1848.2" cy="234.8" r="6.1"/><circle cx="1873.2" cy="244.1" r="6.1"/><circle cx="1883.5" cy="256.3" r="6.1"/><circle cx="1754.7" cy="242.9" r="6.1"/><circle cx="1837.9" cy="252.9" r="6.1"/><circle cx="1868.8" cy="282.3" r="6.1"/><circle cx="1877.6" cy="283.8" r="6.1"/><circle cx="1895" cy="278.7" r="6.1"/><circle cx="1900.1" cy="295.6" r="6.1"/><circle cx="1857" cy="297.5" r="6.1"/><circle cx="1890.9" cy="305.1" r="6.1"/><circle cx="1794.2" cy="318.4" r="6.1"/><circle cx="1810.7" cy="324" r="6.1"/><circle cx="1858.9" cy="324.3" r="6.1"/><circle cx="1918.8" cy="333.1" r="6.1"/><circle cx="1695.2" cy="331.6" r="6.1"/><circle cx="1890.1" cy="345" r="6.1"/><circle cx="1905.9" cy="341.3" r="6.1"/><circle cx="1853.3" cy="350.2" r="6.1"/><circle cx="1892.3" cy="357.5" r="6.1"/><circle cx="1713.5" cy="363" r="6.1"/><circle cx="1758.1" cy="366.8" r="6.1"/><circle cx="1864.4" cy="367.4" r="6.1"/><circle cx="1896" cy="368.6" r="6.1"/><circle cx="1909.2" cy="370" r="6.1"/><circle cx="1915.9" cy="374.4" r="6.1"/><circle cx="1741.1" cy="385.2" r="6.1"/><circle cx="1871" cy="384.3" r="6.1"/><circle cx="1887.2" cy="381.5" r="6.1"/><circle cx="1903.4" cy="380.3" r="6.1"/><circle cx="1904.8" cy="384.7" r="6.1"/><circle cx="1880.8" cy="410.8" r="6.1"/><circle cx="1862.9" cy="414.2" r="6.1"/><circle cx="1870.3" cy="420.1" r="6.1"/><circle cx="1849.4" cy="422" r="6.1"/><circle cx="1919.5" cy="415.6" r="6.1"/><circle cx="1909.2" cy="421.5" r="6.1"/><circle cx="1915.1" cy="423" r="6.1"/><circle cx="1910.7" cy="429.6" r="6.1"/><circle cx="1913.7" cy="433.3" r="6.1"/><circle cx="1934.3" cy="429.6" r="6.1"/><circle cx="1868.8" cy="439.9" r="6.1"/><circle cx="1878.3" cy="438.9" r="6.1"/><circle cx="1918.8" cy="445.1" r="6.1"/><circle cx="1924.7" cy="445.1" r="6.1"/><circle cx="1875.8" cy="457.1" r="6.1"/><circle cx="1892.8" cy="459.8" r="6.1"/><circle cx="1938.7" cy="466.4" r="6.1"/><circle cx="1932.1" cy="467.9" r="6.1"/><circle cx="1918.8" cy="468.6" r="6.1"/><circle cx="1898.9" cy="471.6" r="6.1"/><circle cx="1909.2" cy="473.8" r="6.1"/><circle cx="1856.3" cy="476.7" r="6.1"/><circle cx="1801.1" cy="483" r="6.1"/><circle cx="1925.4" cy="479.7" r="6.1"/><circle cx="1932.8" cy="477.4" r="6.1"/><circle cx="1938.7" cy="481.9" r="6.1"/><circle cx="1918.1" cy="483.3" r="6.1"/><circle cx="1921" cy="489.2" r="6.1"/><circle cx="1898.9" cy="491.4" r="6.1"/><circle cx="1912.2" cy="495.8" r="6.1"/><circle cx="1921.8" cy="491.4" r="6.1"/><circle cx="1935" cy="496.6" r="6.1"/><circle cx="1946" cy="500.3" r="6.1"/><circle cx="1950.4" cy="501.7" r="6.1"/><circle cx="1938.7" cy="503.9" r="6.1"/><circle cx="1819.5" cy="512.8" r="6.1"/><circle cx="1928.4" cy="512.8" r="6.1"/><circle cx="1931.3" cy="518.6" r="6.1"/><circle cx="1938.7" cy="515.7" r="6.1"/><circle cx="1940.1" cy="520.9" r="6.1"/><circle cx="1950.4" cy="520.9" r="6.1"/><circle cx="1894.2" cy="521.6" r="6.1"/><circle cx="1917.3" cy="522.8" r="6.1"/><circle cx="1950" cy="540.7" r="6.1"/><circle cx="1950" cy="546.6" r="6.1"/><circle cx="1889.7" cy="540.7" r="6.1"/><circle cx="1950" cy="556.9" r="6.1"/><circle cx="1892.3" cy="559.8" r="6.1"/></g>
<g fill="#b23a9e"><circle cx="1765.8" cy="115.8" r="6.1"/><circle cx="1803" cy="152.1" r="6.1"/><circle cx="1836" cy="136.2" r="6.1"/><circle cx="1824.2" cy="213.2" r="6.1"/><circle cx="1867" cy="220.5" r="6.1"/><circle cx="1899.4" cy="222" r="6.1"/><circle cx="1829.1" cy="231.6" r="6.1"/><circle cx="1829.5" cy="236.7" r="6.1"/><circle cx="1853.8" cy="240.1" r="6.1"/><circle cx="1864.7" cy="244.1" r="6.1"/><circle cx="1879.8" cy="251.1" r="6.1"/><circle cx="1862.2" cy="266.9" r="6.1"/><circle cx="1920.7" cy="271.3" r="6.1"/><circle cx="1911.2" cy="279.4" r="6.1"/><circle cx="1918.1" cy="295.6" r="6.1"/><circle cx="1907.8" cy="303.7" r="6.1"/><circle cx="1920.3" cy="313.2" r="6.1"/><circle cx="1909.2" cy="330.2" r="6.1"/><circle cx="1881" cy="367.8" r="6.1"/><circle cx="1918.4" cy="369.3" r="6.1"/><circle cx="1916.6" cy="382.5" r="6.1"/><circle cx="1908.2" cy="412.7" r="6.1"/></g>
<circle class="bg" cx="1899.7" cy="315.4" r="10.5" fill="#000000"/>
<circle class="bg" cx="1776.4" cy="259.2" r="10.5" fill="#ed1c24"/>
<circle class="bg" cx="1689.6" cy="189.2" r="10.5" fill="#6cbe45"/>
<circle class="bg" cx="1677.8" cy="260.3" r="10.5" fill="#3a93d4"/>
<circle class="bg" cx="1814" cy="375.2" r="10.5" fill="#5bc8d5"/>
<circle class="bg" cx="1854.5" cy="279.1" r="10.5" fill="#b23a9e"/>
<rect x="1411.3" y="415.1" width="141.5" height="169.5" fill="#bebebe"/>
<circle cx="1428.9" cy="438.9" r="5.1" fill="#000000"/>
<text class="l2" x="1447.2" y="445.8">islands</text>
<circle cx="1428.9" cy="463.1" r="5.1" fill="#ed1c24"/>
<text class="l2" x="1447.2" y="470">Svalbard</text>
<circle cx="1428.9" cy="487.3" r="5.1" fill="#6cbe45"/>
<text class="l2" x="1447.2" y="494.2">CoNo</text>
<circle cx="1428.9" cy="511.5" r="5.1" fill="#3a93d4"/>
<text class="l2" x="1447.2" y="518.4">Mountains</text>
<circle cx="1428.9" cy="535.7" r="5.1" fill="#5bc8d5"/>
<text class="l2" x="1447.2" y="542.6">NSF inland</text>
<circle cx="1428.9" cy="559.9" r="5.1" fill="#b23a9e"/>
<text class="l2" x="1447.2" y="566.8">GoBothnia</text>
<text class="ax" x="1431.4" y="612.5">0.0</text>
<text class="ax" transform="translate(1392.4 564) rotate(-90)">0.0</text>
<text class="ax" x="1535.1" y="612.5">0.2</text>
<text class="ax" transform="translate(1392.4 466.2) rotate(-90)">0.2</text>
<text class="ax" x="1638.8" y="612.5">0.4</text>
<text class="ax" transform="translate(1392.4 368.4) rotate(-90)">0.4</text>
<text class="ax" x="1742.5" y="612.5">0.6</text>
<text class="ax" transform="translate(1392.4 270.7) rotate(-90)">0.6</text>
<text class="ax" x="1846.2" y="612.5">0.8</text>
<text class="ax" transform="translate(1392.4 172.9) rotate(-90)">0.8</text>
<text class="ax" x="1949.9" y="612.5">1.0</text>
<text class="ax" transform="translate(1392.4 75.1) rotate(-90)">1.0</text>
<text class="bl" x="1690.7" y="645">1 − False alarm rate</text>
<text class="bl" transform="translate(1358.9 319.1) rotate(-90)">Hit rate</text>
</g>
<g id="panel-e">
<text class="t2" x="984.7" y="723">(e) Warm extremes CARRA</text>
<rect class="fr" x="705.7" y="746.2" width="560" height="528.1"/>
<path class="as" d="M726.4 1274.3H1244.9M726.4 1274.3v8.5M830.1 1274.3v8.5M933.8 1274.3v8.5M1037.5 1274.3v8.5M1141.2 1274.3v8.5M1244.9 1274.3v8.5M705.7 1254.7V765.8M705.7 1254.7h-8.5M705.7 1156.9h-8.5M705.7 1059.1h-8.5M705.7 961.4h-8.5M705.7 863.6h-8.5M705.7 765.8h-8.5"/>
<g fill="#000000"><circle cx="1243.2" cy="1047.5" r="6.1"/><circle cx="1228.8" cy="1090.6" r="6.1"/></g>
<g fill="#ed1c24"><circle cx="1079.5" cy="840.9" r="6.1"/><circle cx="1035" cy="858.7" r="6.1"/><circle cx="1191" cy="886.3" r="6.1"/><circle cx="1080.6" cy="880.8" r="6.1"/><circle cx="1126.7" cy="883" r="6.1"/><circle cx="1182.2" cy="903.2" r="6.1"/><circle cx="1096.1" cy="912.5" r="6.1"/><circle cx="1115.5" cy="946.6" r="6.1"/><circle cx="1186.3" cy="990.7" r="6.1"/><circle cx="1247.7" cy="1071.8" r="6.1"/><circle cx="1165.3" cy="1087.5" r="6.1"/></g>
<g fill="#6cbe45"><circle cx="1109" cy="781.5" r="6.1"/><circle cx="1062.5" cy="806.8" r="6.1"/><circle cx="1125.5" cy="821.5" r="6.1"/><circle cx="1127" cy="825.2" r="6.1"/><circle cx="1063.4" cy="855.4" r="6.1"/><circle cx="1159.4" cy="820.8" r="6.1"/><circle cx="1157.2" cy="828.9" r="6.1"/><circle cx="1170.4" cy="824.5" r="6.1"/><circle cx="1149.8" cy="845.1" r="6.1"/><circle cx="1208.7" cy="831.8" r="6.1"/><circle cx="1213.1" cy="840.6" r="6.1"/><circle cx="1182.9" cy="854.6" r="6.1"/><circle cx="1193.9" cy="856.8" r="6.1"/><circle cx="1163.8" cy="860.5" r="6.1"/><circle cx="1144.7" cy="870.8" r="6.1"/><circle cx="1177.8" cy="874.2" r="6.1"/><circle cx="1207.2" cy="896.6" r="6.1"/><circle cx="1171.1" cy="910.5" r="6.1"/><circle cx="1179.2" cy="909.8" r="6.1"/><circle cx="1195.4" cy="918.6" r="6.1"/><circle cx="1202.8" cy="927.5" r="6.1"/><circle cx="1229.3" cy="941.4" r="6.1"/><circle cx="1181.9" cy="949.8" r="6.1"/><circle cx="1216" cy="951" r="6.1"/><circle cx="1210.1" cy="964.2" r="6.1"/><circle cx="1193.2" cy="989.7" r="6.1"/><circle cx="1218.7" cy="1010.6" r="6.1"/><circle cx="1230" cy="1018" r="6.1"/><circle cx="1224.8" cy="1051.9" r="6.1"/></g>
<g fill="#3a93d4"><circle cx="1025.9" cy="807.5" r="6.1"/><circle cx="1067.7" cy="818.1" r="6.1"/><circle cx="1088.7" cy="821.5" r="6.1"/><circle cx="1131.9" cy="819.6" r="6.1"/><circle cx="1035.5" cy="930" r="6.1"/><circle cx="1216" cy="1074.3" r="6.1"/><circle cx="1245" cy="1133.2" r="6.1"/></g>
<g fill="#5bc8d5"><circle cx="1018.8" cy="779.6" r="6.1"/><circle cx="1049.7" cy="785" r="6.1"/><circle cx="1103.5" cy="788.7" r="6.1"/><circle cx="1096.1" cy="792.8" r="6.1"/><circle cx="1121.1" cy="792.5" r="6.1"/><circle cx="1061.5" cy="799.1" r="6.1"/><circle cx="1078.4" cy="799" r="6.1"/><circle cx="1095.4" cy="805.6" r="6.1"/><circle cx="1147.9" cy="817.1" r="6.1"/><circle cx="1096.4" cy="853.2" r="6.1"/><circle cx="1167.5" cy="792.1" r="6.1"/><circle cx="1176.3" cy="795" r="6.1"/><circle cx="1182.2" cy="795.8" r="6.1"/><circle cx="1188.1" cy="796.5" r="6.1"/><circle cx="1166" cy="805.3" r="6.1"/><circle cx="1171.9" cy="802.4" r="6.1"/><circle cx="1176.3" cy="806.8" r="6.1"/><circle cx="1183.6" cy="803.9" r="6.1"/><circle cx="1191" cy="803.9" r="6.1"/><circle cx="1195.4" cy="806.8" r="6.1"/><circle cx="1201.3" cy="806.8" r="6.1"/><circle cx="1207.2" cy="808.3" r="6.1"/><circle cx="1210.1" cy="814.2" r="6.1"/><circle cx="1166" cy="814.2" r="6.1"/><circle cx="1173.3" cy="814.2" r="6.1"/><circle cx="1179.2" cy="815.6" r="6.1"/><circle cx="1186.6" cy="812.7" r="6.1"/><circle cx="1191" cy="815.6" r="6.1"/><circle cx="1198.4" cy="814.2" r="6.1"/><circle cx="1204.2" cy="817.1" r="6.1"/><circle cx="1211.6" cy="821.5" r="6.1"/><circle cx="1216" cy="825.2" r="6.1"/><circle cx="1168.9" cy="823" r="6.1"/><circle cx="1176.3" cy="824.5" r="6.1"/><circle cx="1188.1" cy="821.5" r="6.1"/><circle cx="1193.9" cy="824.5" r="6.1"/><circle cx="1199.8" cy="824.5" r="6.1"/><circle cx="1205.7" cy="827.4" r="6.1"/><circle cx="1213.1" cy="830.3" r="6.1"/><circle cx="1220.4" cy="831.8" r="6.1"/><circle cx="1226.3" cy="831.8" r="6.1"/><circle cx="1236.6" cy="831.1" r="6.1"/><circle cx="1174.8" cy="831.8" r="6.1"/><circle cx="1180.7" cy="828.9" r="6.1"/><circle cx="1185.1" cy="831.8" r="6.1"/><circle cx="1202.8" cy="833.3" r="6.1"/><circle cx="1208.7" cy="836.2" r="6.1"/><circle cx="1217.5" cy="837.7" r="6.1"/><circle cx="1221.9" cy="840.6" r="6.1"/><circle cx="1160.1" cy="836.2" r="6.1"/><circle cx="1158.6" cy="842.1" r="6.1"/><circle cx="1154.2" cy="846.5" r="6.1"/><circle cx="1161.6" cy="850.9" r="6.1"/><circle cx="1202.8" cy="842.1" r="6.1"/><circle cx="1208.7" cy="845.1" r="6.1"/><circle cx="1214.5" cy="848" r="6.1"/><circle cx="1220.4" cy="846.5" r="6.1"/><circle cx="1202.8" cy="852.4" r="6.1"/><circle cx="1210.1" cy="853.9" r="6.1"/><circle cx="1205.7" cy="859.8" r="6.1"/><circle cx="1211.6" cy="862.7" r="6.1"/><circle cx="1221.2" cy="859" r="6.1"/><circle cx="1238.8" cy="861" r="6.1"/><circle cx="1174.8" cy="858.3" r="6.1"/><circle cx="1158.6" cy="854.6" r="6.1"/><circle cx="1199.8" cy="870.1" r="6.1"/><circle cx="1204.2" cy="873" r="6.1"/><circle cx="1217.5" cy="872.3" r="6.1"/><circle cx="1198.4" cy="874.5" r="6.1"/><circle cx="1216" cy="877.4" r="6.1"/><circle cx="1229.3" cy="882.6" r="6.1"/><circle cx="1212.3" cy="884.8" r="6.1"/><circle cx="1201.3" cy="883.3" r="6.1"/><circle cx="1196.2" cy="898" r="6.1"/><circle cx="1232.2" cy="901.7" r="6.1"/><circle cx="1227.8" cy="906.9" r="6.1"/><circle cx="1145.8" cy="899.5" r="6.1"/><circle cx="1171.9" cy="914.2" r="6.1"/><circle cx="1213.8" cy="909.8" r="6.1"/><circle cx="1220.4" cy="914.2" r="6.1"/><circle cx="1226.3" cy="915.7" r="6.1"/><circle cx="1232.2" cy="912.7" r="6.1"/><circle cx="1223.4" cy="935.6" r="6.1"/><circle cx="1233.7" cy="955.4" r="6.1"/><circle cx="1233.7" cy="959.8" r="6.1"/><circle cx="1241" cy="1005.4" r="6.1"/><circle cx="1245.4" cy="1006.2" r="6.1"/><circle cx="1241" cy="1032.8" r="6.1"/></g>
<g fill="#b23a9e"><circle cx="1182.9" cy="863.5" r="6.1"/><circle cx="1159.1" cy="871.3" r="6.1"/><circle cx="1191" cy="877.4" r="6.1"/><circle cx="1193.9" cy="883.3" r="6.1"/><circle cx="1198.4" cy="890.7" r="6.1"/><circle cx="1161.6" cy="900.7" r="6.1"/><circle cx="1170.4" cy="906.9" r="6.1"/><circle cx="1196.9" cy="909.1" r="6.1"/><circle cx="1211.6" cy="908.3" r="6.1"/><circle cx="1224.8" cy="925.3" r="6.1"/><circle cx="1217.5" cy="928.9" r="6.1"/><circle cx="1198.4" cy="931.9" r="6.1"/><circle cx="1226.3" cy="951.7" r="6.1"/><circle cx="1219" cy="965.7" r="6.1"/><circle cx="1210.1" cy="970.1" r="6.1"/><circle cx="1229.3" cy="994.9" r="6.1"/><circle cx="1223.4" cy="1001.8" r="6.1"/><circle cx="1226.3" cy="1018.7" r="6.1"/><circle cx="1232.9" cy="1029.9" r="6.1"/><circle cx="1226.3" cy="1063.7" r="6.1"/><circle cx="1235.1" cy="1115.7" r="6.1"/></g>
<circle class="bg" cx="1235.9" cy="1074" r="10.5" fill="#000000"/>
<circle class="bg" cx="1142.7" cy="934.5" r="10.5" fill="#ed1c24"/>
<circle class="bg" cx="1180.4" cy="890.4" r="10.5" fill="#6cbe45"/>
<circle class="bg" cx="1115.7" cy="915" r="10.5" fill="#3a93d4"/>
<circle class="bg" cx="1189.5" cy="843.3" r="10.5" fill="#5bc8d5"/>
<circle class="bg" cx="1205.3" cy="946.6" r="10.5" fill="#b23a9e"/>
<rect x="706.3" y="1105.8" width="141.5" height="169.5" fill="#bebebe"/>
<circle cx="723.9" cy="1129.6" r="5.1" fill="#000000"/>
<text class="l2" x="742.2" y="1136.5">islands</text>
<circle cx="723.9" cy="1153.8" r="5.1" fill="#ed1c24"/>
<text class="l2" x="742.2" y="1160.7">Svalbard</text>
<circle cx="723.9" cy="1178" r="5.1" fill="#6cbe45"/>
<text class="l2" x="742.2" y="1184.9">CoNo</text>
<circle cx="723.9" cy="1202.2" r="5.1" fill="#3a93d4"/>
<text class="l2" x="742.2" y="1209.1">Mountains</text>
<circle cx="723.9" cy="1226.4" r="5.1" fill="#5bc8d5"/>
<text class="l2" x="742.2" y="1233.3">NSF inland</text>
<circle cx="723.9" cy="1250.6" r="5.1" fill="#b23a9e"/>
<text class="l2" x="742.2" y="1257.5">GoBothnia</text>
<text class="ax" x="726.4" y="1303.2">0.0</text>
<text class="ax" transform="translate(687.4 1254.7) rotate(-90)">0.0</text>
<text class="ax" x="830.1" y="1303.2">0.2</text>
<text class="ax" transform="translate(687.4 1156.9) rotate(-90)">0.2</text>
<text class="ax" x="933.8" y="1303.2">0.4</text>
<text class="ax" transform="translate(687.4 1059.1) rotate(-90)">0.4</text>
<text class="ax" x="1037.5" y="1303.2">0.6</text>
<text class="ax" transform="translate(687.4 961.4) rotate(-90)">0.6</text>
<text class="ax" x="1141.2" y="1303.2">0.8</text>
<text class="ax" transform="translate(687.4 863.6) rotate(-90)">0.8</text>
<text class="ax" x="1244.9" y="1303.2">1.0</text>
<text class="ax" transform="translate(687.4 765.8) rotate(-90)">1.0</text>
<text class="bl" x="985.7" y="1335.7">1 − False alarm rate</text>
<text class="bl" transform="translate(653.9 1009.8) rotate(-90)">Hit rate</text>
</g>
<g id="panel-f">
<text class="t2" x="1689.7" y="723">(f) Warm extremes ERA5</text>
<rect class="fr" x="1410.7" y="746.2" width="560" height="528.1"/>
<path class="as" d="M1431.4 1274.3H1949.9M1431.4 1274.3v8.5M1535.1 1274.3v8.5M1638.8 1274.3v8.5M1742.5 1274.3v8.5M1846.2 1274.3v8.5M1949.9 1274.3v8.5M1410.7 1254.7V765.8M1410.7 1254.7h-8.5M1410.7 1156.9h-8.5M1410.7 1059.1h-8.5M1410.7 961.4h-8.5M1410.7 863.6h-8.5M1410.7 765.8h-8.5"/>
<g fill="#000000"><circle cx="1835.4" cy="1224.5" r="6.1"/><circle cx="1765.8" cy="1240.3" r="6.1"/><circle cx="1950" cy="1252.1" r="6.1"/></g>
<g fill="#ed1c24"><circle cx="1762.1" cy="875.7" r="6.1"/><circle cx="1591.3" cy="842.4" r="6.1"/><circle cx="1620.4" cy="1115.2" r="6.1"/><circle cx="1808.7" cy="1098.7" r="6.1"/><circle cx="1805.2" cy="1183.6" r="6.1"/><circle cx="1933.5" cy="1214.2" r="6.1"/><circle cx="1904.1" cy="1227" r="6.1"/><circle cx="1701.8" cy="1234.7" r="6.1"/><circle cx="1922.2" cy="1242.2" r="6.1"/><circle cx="1742.5" cy="1252.5" r="6.1"/><circle cx="1820.2" cy="1251.3" r="6.1"/><circle cx="1950" cy="1248.4" r="6.1"/></g>
<g fill="#6cbe45"><circle cx="1703.7" cy="781.3" r="6.1"/><circle cx="1753" cy="804.6" r="6.1"/><circle cx="1827.3" cy="825.9" r="6.1"/><circle cx="1804.3" cy="833.3" r="6.1"/><circle cx="1872.9" cy="896.6" r="6.1"/><circle cx="1831.7" cy="869.8" r="6.1"/><circle cx="1857.7" cy="874" r="6.1"/><circle cx="1791.5" cy="933.1" r="6.1"/><circle cx="1905.3" cy="979" r="6.1"/><circle cx="1823.2" cy="995.9" r="6.1"/><circle cx="1768.7" cy="1012.5" r="6.1"/><circle cx="1679.7" cy="786.9" r="6.1"/><circle cx="1642.9" cy="840.2" r="6.1"/><circle cx="1908.5" cy="1034.3" r="6.1"/><circle cx="1880.8" cy="1037.2" r="6.1"/><circle cx="1889.7" cy="1057.1" r="6.1"/><circle cx="1811.1" cy="1079.9" r="6.1"/><circle cx="1831.3" cy="1092.4" r="6.1"/><circle cx="1834.2" cy="1089.5" r="6.1"/><circle cx="1875.8" cy="1093.6" r="6.1"/><circle cx="1758.4" cy="1118.9" r="6.1"/><circle cx="1905.6" cy="1111.5" r="6.1"/><circle cx="1916.2" cy="1110.1" r="6.1"/><circle cx="1889.7" cy="1124" r="6.1"/><circle cx="1886.7" cy="1148.3" r="6.1"/><circle cx="1930.6" cy="1144.6" r="6.1"/><circle cx="1926.9" cy="1151.3" r="6.1"/><circle cx="1937.9" cy="1153.5" r="6.1"/><circle cx="1821.3" cy="1160.1" r="6.1"/><circle cx="1926.9" cy="1166" r="6.1"/><circle cx="1929.8" cy="1188.3" r="6.1"/><circle cx="1940.9" cy="1204.2" r="6.1"/><circle cx="1950.4" cy="1208.6" r="6.1"/><circle cx="1937.2" cy="1227.8" r="6.1"/><circle cx="1950" cy="1234.4" r="6.1"/></g>
<g fill="#3a93d4"><circle cx="1687.1" cy="792.8" r="6.1"/><circle cx="1737.8" cy="810.2" r="6.1"/><circle cx="1723.5" cy="902.2" r="6.1"/><circle cx="1776.8" cy="902.7" r="6.1"/><circle cx="1657.6" cy="799.4" r="6.1"/><circle cx="1859.7" cy="1111.2" r="6.1"/><circle cx="1950" cy="1231.5" r="6.1"/></g>
<g fill="#5bc8d5"><circle cx="1690.7" cy="792.4" r="6.1"/><circle cx="1693.7" cy="805.6" r="6.1"/><circle cx="1757.4" cy="793.6" r="6.1"/><circle cx="1772.4" cy="792.1" r="6.1"/><circle cx="1780.2" cy="799.4" r="6.1"/><circle cx="1751.1" cy="814.9" r="6.1"/><circle cx="1770.2" cy="818.6" r="6.1"/><circle cx="1814.8" cy="788" r="6.1"/><circle cx="1806.5" cy="796.5" r="6.1"/><circle cx="1826.1" cy="803.1" r="6.1"/><circle cx="1833.5" cy="805.3" r="6.1"/><circle cx="1841.6" cy="814.2" r="6.1"/><circle cx="1847.4" cy="818.6" r="6.1"/><circle cx="1854.8" cy="814.2" r="6.1"/><circle cx="1862.2" cy="815.6" r="6.1"/><circle cx="1868" cy="821.5" r="6.1"/><circle cx="1879.1" cy="821.5" r="6.1"/><circle cx="1873.9" cy="827.4" r="6.1"/><circle cx="1850.4" cy="831.1" r="6.1"/><circle cx="1840.1" cy="837.7" r="6.1"/><circle cx="1889.4" cy="831.8" r="6.1"/><circle cx="1876.9" cy="836.2" r="6.1"/><circle cx="1882.8" cy="840.6" r="6.1"/><circle cx="1862.2" cy="842.1" r="6.1"/><circle cx="1869.5" cy="846.5" r="6.1"/><circle cx="1878.3" cy="848" r="6.1"/><circle cx="1893.8" cy="847.3" r="6.1"/><circle cx="1909.2" cy="840.6" r="6.1"/><circle cx="1875.4" cy="853.9" r="6.1"/><circle cx="1884.2" cy="856.8" r="6.1"/><circle cx="1865.1" cy="861.2" r="6.1"/><circle cx="1888.6" cy="862.7" r="6.1"/><circle cx="1900.4" cy="861.2" r="6.1"/><circle cx="1904.8" cy="859.8" r="6.1"/><circle cx="1874.7" cy="869.3" r="6.1"/><circle cx="1887.2" cy="870.1" r="6.1"/><circle cx="1896" cy="868.6" r="6.1"/><circle cx="1903.4" cy="874.5" r="6.1"/><circle cx="1909.2" cy="876" r="6.1"/><circle cx="1920.3" cy="873" r="6.1"/><circle cx="1871.7" cy="881.8" r="6.1"/><circle cx="1891.6" cy="880.4" r="6.1"/><circle cx="1898.9" cy="883.3" r="6.1"/><circle cx="1907.8" cy="884.8" r="6.1"/><circle cx="1873.9" cy="890.7" r="6.1"/><circle cx="1885.7" cy="889.2" r="6.1"/><circle cx="1894.5" cy="890.7" r="6.1"/><circle cx="1906.3" cy="892.1" r="6.1"/><circle cx="1901.9" cy="899.5" r="6.1"/><circle cx="1906.3" cy="903.9" r="6.1"/><circle cx="1919.5" cy="905.4" r="6.1"/><circle cx="1894.5" cy="912" r="6.1"/><circle cx="1903.4" cy="911.3" r="6.1"/><circle cx="1912.2" cy="912.7" r="6.1"/><circle cx="1921" cy="911.3" r="6.1"/><circle cx="1903.4" cy="918.6" r="6.1"/><circle cx="1913.7" cy="920.1" r="6.1"/><circle cx="1922.5" cy="917.2" r="6.1"/><circle cx="1907.8" cy="926" r="6.1"/><circle cx="1915.1" cy="931.9" r="6.1"/><circle cx="1938.7" cy="931.6" r="6.1"/><circle cx="1859.2" cy="821.5" r="6.1"/><circle cx="1871" cy="827.4" r="6.1"/><circle cx="1881.3" cy="833.3" r="6.1"/><circle cx="1885.7" cy="848" r="6.1"/><circle cx="1872.5" cy="840.6" r="6.1"/><circle cx="1881.3" cy="864.2" r="6.1"/><circle cx="1893.1" cy="873" r="6.1"/><circle cx="1879.8" cy="877.4" r="6.1"/><circle cx="1901.9" cy="880.4" r="6.1"/><circle cx="1894.5" cy="901" r="6.1"/><circle cx="1910.7" cy="906.9" r="6.1"/><circle cx="1898.9" cy="921.6" r="6.1"/><circle cx="1916.6" cy="924.5" r="6.1"/><circle cx="1863.6" cy="824.5" r="6.1"/><circle cx="1896" cy="856.8" r="6.1"/><circle cx="1820.2" cy="863.2" r="6.1"/><circle cx="1860" cy="940" r="6.1"/><circle cx="1882" cy="934.5" r="6.1"/><circle cx="1927.6" cy="944.7" r="6.1"/><circle cx="1893.1" cy="945.9" r="6.1"/><circle cx="1897.5" cy="942.2" r="6.1"/><circle cx="1896" cy="953.9" r="6.1"/><circle cx="1910" cy="952.5" r="6.1"/><circle cx="1900.4" cy="961.3" r="6.1"/><circle cx="1901.9" cy="968.7" r="6.1"/><circle cx="1907.8" cy="976" r="6.1"/><circle cx="1936.5" cy="969.4" r="6.1"/><circle cx="1929.8" cy="974.5" r="6.1"/><circle cx="1922.5" cy="980.4" r="6.1"/><circle cx="1931.3" cy="986.3" r="6.1"/><circle cx="1928.4" cy="993.7" r="6.1"/><circle cx="1910.7" cy="995.1" r="6.1"/><circle cx="1923.2" cy="1006.9" r="6.1"/><circle cx="1885" cy="1023.1" r="6.1"/><circle cx="1926.9" cy="1023.8" r="6.1"/><circle cx="1605.4" cy="778.8" r="6.1"/><circle cx="1676.3" cy="788.4" r="6.1"/><circle cx="1915.1" cy="1029.9" r="6.1"/><circle cx="1922.5" cy="1032.8" r="6.1"/><circle cx="1926.9" cy="1027.7" r="6.1"/><circle cx="1932.8" cy="1035" r="6.1"/><circle cx="1941.6" cy="1045.3" r="6.1"/><circle cx="1875.4" cy="1079.9" r="6.1"/><circle cx="1949.7" cy="1083.6" r="6.1"/><circle cx="1947.5" cy="1091.7" r="6.1"/><circle cx="1926.5" cy="1098.3" r="6.1"/><circle cx="1936.8" cy="1113.7" r="6.1"/><circle cx="1936" cy="1122.6" r="6.1"/><circle cx="1946.8" cy="1145.4" r="6.1"/><circle cx="1909.2" cy="1160.8" r="6.1"/><circle cx="1950" cy="1181.7" r="6.1"/><circle cx="1950" cy="1203.5" r="6.1"/></g>
<g fill="#b23a9e"><circle cx="1690.7" cy="859" r="6.1"/><circle cx="1759.2" cy="901.7" r="6.1"/><circle cx="1793.7" cy="898.8" r="6.1"/><circle cx="1803.3" cy="893.6" r="6.1"/><circle cx="1757" cy="923" r="6.1"/><circle cx="1764.3" cy="927.5" r="6.1"/><circle cx="1737.8" cy="944.4" r="6.1"/><circle cx="1817.7" cy="940" r="6.1"/><circle cx="1865.1" cy="967.2" r="6.1"/><circle cx="1802.6" cy="977.5" r="6.1"/><circle cx="1836.1" cy="980" r="6.1"/><circle cx="1882.8" cy="985.1" r="6.1"/><circle cx="1897.5" cy="996.9" r="6.1"/><circle cx="1871" cy="1013.5" r="6.1"/><circle cx="1896.7" cy="1014.3" r="6.1"/><circle cx="1912.2" cy="1023.1" r="6.1"/><circle cx="1815.8" cy="1051.2" r="6.1"/><circle cx="1812.1" cy="1086.5" r="6.1"/><circle cx="1849.9" cy="1099.8" r="6.1"/><circle cx="1897.5" cy="1113" r="6.1"/><circle cx="1903.4" cy="1120.4" r="6.1"/><circle cx="1851.9" cy="1137.7" r="6.1"/></g>
<circle class="bg" cx="1850.4" cy="1238.5" r="10.5" fill="#000000"/>
<circle class="bg" cx="1797" cy="1148.8" r="10.5" fill="#ed1c24"/>
<circle class="bg" cx="1832" cy="1055.3" r="10.5" fill="#6cbe45"/>
<circle class="bg" cx="1695.2" cy="1006.2" r="10.5" fill="#3a93d4"/>
<circle class="bg" cx="1829.8" cy="950" r="10.5" fill="#5bc8d5"/>
<circle class="bg" cx="1810.7" cy="1004.7" r="10.5" fill="#b23a9e"/>
<rect x="1411.3" y="1105.8" width="141.5" height="169.5" fill="#bebebe"/>
<circle cx="1428.9" cy="1129.6" r="5.1" fill="#000000"/>
<text class="l2" x="1447.2" y="1136.5">islands</text>
<circle cx="1428.9" cy="1153.8" r="5.1" fill="#ed1c24"/>
<text class="l2" x="1447.2" y="1160.7">Svalbard</text>
<circle cx="1428.9" cy="1178" r="5.1" fill="#6cbe45"/>
<text class="l2" x="1447.2" y="1184.9">CoNo</text>
<circle cx="1428.9" cy="1202.2" r="5.1" fill="#3a93d4"/>
<text class="l2" x="1447.2" y="1209.1">Mountains</text>
<circle cx="1428.9" cy="1226.4" r="5.1" fill="#5bc8d5"/>
<text class="l2" x="1447.2" y="1233.3">NSF inland</text>
<circle cx="1428.9" cy="1250.6" r="5.1" fill="#b23a9e"/>
<text class="l2" x="1447.2" y="1257.5">GoBothnia</text>
<text class="ax" x="1431.4" y="1303.2">0.0</text>
<text class="ax" transform="translate(1392.4 1254.7) rotate(-90)">0.0</text>
<text class="ax" x="1535.1" y="1303.2">0.2</text>
<text class="ax" transform="translate(1392.4 1156.9) rotate(-90)">0.2</text>
<text class="ax" x="1638.8" y="1303.2">0.4</text>
<text class="ax" transform="translate(1392.4 1059.1) rotate(-90)">0.4</text>
<text class="ax" x="1742.5" y="1303.2">0.6</text>
<text class="ax" transform="translate(1392.4 961.4) rotate(-90)">0.6</text>
<text class="ax" x="1846.2" y="1303.2">0.8</text>
<text class="ax" transform="translate(1392.4 863.6) rotate(-90)">0.8</text>
<text class="ax" x="1949.9" y="1303.2">1.0</text>
<text class="ax" transform="translate(1392.4 765.8) rotate(-90)">1.0</text>
<text class="bl" x="1690.7" y="1335.7">1 − False alarm rate</text>
<text class="bl" transform="translate(1358.9 1009.8) rotate(-90)">Hit rate</text>
</g>
<g id="panel-h">
<text class="t2" x="984.7" y="1413.7">(h) Wind extremes CARRA</text>
<rect class="fr" x="705.7" y="1436.9" width="560" height="528.1"/>
<path class="as" d="M726.4 1965H1244.9M726.4 1965v8.5M830.1 1965v8.5M933.8 1965v8.5M1037.5 1965v8.5M1141.2 1965v8.5M1244.9 1965v8.5M705.7 1945.4V1456.5M705.7 1945.4h-8.5M705.7 1847.6h-8.5M705.7 1749.8h-8.5M705.7 1652.1h-8.5M705.7 1554.3h-8.5M705.7 1456.5h-8.5"/>
<g fill="#000000"><circle cx="901.7" cy="1513.7" r="6.1"/><circle cx="958.4" cy="1645.4" r="6.1"/><circle cx="1082.9" cy="1617.8" r="6.1"/></g>
<g fill="#ed1c24"><circle cx="961.8" cy="1554.2" r="6.1"/><circle cx="934.5" cy="1564.5" r="6.1"/><circle cx="846" cy="1580.2" r="6.1"/><circle cx="961" cy="1641" r="6.1"/><circle cx="974.7" cy="1642.2" r="6.1"/><circle cx="974" cy="1697.7" r="6.1"/><circle cx="1082.4" cy="1661.6" r="6.1"/><circle cx="1096.1" cy="1691.3" r="6.1"/><circle cx="1082.1" cy="1714.6" r="6.1"/><circle cx="1187.3" cy="1735.3" r="6.1"/><circle cx="1200.9" cy="1870" r="6.1"/><circle cx="979" cy="1782.7" r="6.1"/></g>
<g fill="#6cbe45"><circle cx="797" cy="1466.2" r="6.1"/><circle cx="906.1" cy="1499" r="6.1"/><circle cx="962.5" cy="1588" r="6.1"/><circle cx="901.4" cy="1598.6" r="6.1"/><circle cx="940.1" cy="1610.1" r="6.1"/><circle cx="884.2" cy="1624.1" r="6.1"/><circle cx="876.9" cy="1632.2" r="6.1"/><circle cx="966.9" cy="1692.8" r="6.1"/><circle cx="868.8" cy="1701" r="6.1"/><circle cx="976.5" cy="1710.2" r="6.1"/><circle cx="1002.4" cy="1585.1" r="6.1"/><circle cx="1004.9" cy="1594.7" r="6.1"/><circle cx="1035.8" cy="1607.5" r="6.1"/><circle cx="1043.1" cy="1606.9" r="6.1"/><circle cx="990.2" cy="1629.2" r="6.1"/><circle cx="1013.3" cy="1634.4" r="6.1"/><circle cx="1003.7" cy="1642.2" r="6.1"/><circle cx="1081.4" cy="1644.4" r="6.1"/><circle cx="1089.5" cy="1644.4" r="6.1"/><circle cx="1059" cy="1659.1" r="6.1"/><circle cx="1072.3" cy="1684.1" r="6.1"/><circle cx="1085.5" cy="1695.7" r="6.1"/><circle cx="1061.5" cy="1708" r="6.1"/><circle cx="1048.3" cy="1713.1" r="6.1"/><circle cx="1035.8" cy="1714.6" r="6.1"/><circle cx="994.6" cy="1715.3" r="6.1"/><circle cx="1007.1" cy="1741.2" r="6.1"/><circle cx="999" cy="1751.2" r="6.1"/><circle cx="1092.9" cy="1764.7" r="6.1"/><circle cx="1121.6" cy="1771.7" r="6.1"/><circle cx="1142.4" cy="1772.5" r="6.1"/><circle cx="1076.2" cy="1795.9" r="6.1"/><circle cx="1155.4" cy="1802.6" r="6.1"/><circle cx="1178.9" cy="1807.1" r="6.1"/><circle cx="875" cy="1773.1" r="6.1"/></g>
<g fill="#3a93d4"><circle cx="857.3" cy="1476.9" r="6.1"/><circle cx="829.3" cy="1680.4" r="6.1"/><circle cx="1089.8" cy="1905.3" r="6.1"/><circle cx="1163" cy="1919.5" r="6.1"/><circle cx="1245" cy="1931" r="6.1"/><circle cx="1096.4" cy="1937.2" r="6.1"/><circle cx="1245" cy="1942.1" r="6.1"/></g>
<g fill="#5bc8d5"><circle cx="805.8" cy="1458.5" r="6.1"/><circle cx="806.5" cy="1463.7" r="6.1"/><circle cx="818.6" cy="1470.8" r="6.1"/><circle cx="858.5" cy="1469.9" r="6.1"/><circle cx="851.9" cy="1482.1" r="6.1"/><circle cx="838.6" cy="1480.9" r="6.1"/><circle cx="822" cy="1487.2" r="6.1"/><circle cx="824.9" cy="1491.7" r="6.1"/><circle cx="824.5" cy="1498.3" r="6.1"/><circle cx="843.6" cy="1495.6" r="6.1"/><circle cx="855.8" cy="1494.6" r="6.1"/><circle cx="861" cy="1493.9" r="6.1"/><circle cx="888.9" cy="1491.7" r="6.1"/><circle cx="886" cy="1496.1" r="6.1"/><circle cx="877.2" cy="1505.6" r="6.1"/><circle cx="867.6" cy="1510" r="6.1"/><circle cx="879.4" cy="1515.6" r="6.1"/><circle cx="975.3" cy="1516.2" r="6.1"/><circle cx="890.4" cy="1524.8" r="6.1"/><circle cx="894.1" cy="1532.9" r="6.1"/><circle cx="859.9" cy="1529.2" r="6.1"/><circle cx="880.1" cy="1534.3" r="6.1"/><circle cx="874.2" cy="1538.7" r="6.1"/><circle cx="962.2" cy="1528" r="6.1"/><circle cx="950.4" cy="1532.1" r="6.1"/><circle cx="980.2" cy="1534.6" r="6.1"/><circle cx="892.3" cy="1548" r="6.1"/><circle cx="875.7" cy="1551.2" r="6.1"/><circle cx="876.9" cy="1557.1" r="6.1"/><circle cx="813.2" cy="1553.5" r="6.1"/><circle cx="845.2" cy="1562.6" r="6.1"/><circle cx="915.1" cy="1558.2" r="6.1"/><circle cx="953.7" cy="1557.9" r="6.1"/><circle cx="963.2" cy="1557.1" r="6.1"/><circle cx="943.4" cy="1563" r="6.1"/><circle cx="925.7" cy="1567.4" r="6.1"/><circle cx="931.6" cy="1568.2" r="6.1"/><circle cx="958.1" cy="1569.6" r="6.1"/><circle cx="907.8" cy="1574.8" r="6.1"/><circle cx="924.5" cy="1579.9" r="6.1"/><circle cx="972.8" cy="1577" r="6.1"/><circle cx="889.7" cy="1583.9" r="6.1"/><circle cx="861.7" cy="1596.9" r="6.1"/><circle cx="844.8" cy="1605.7" r="6.1"/><circle cx="949" cy="1599.8" r="6.1"/><circle cx="937.9" cy="1606.4" r="6.1"/><circle cx="970.6" cy="1605" r="6.1"/><circle cx="972.1" cy="1611.6" r="6.1"/><circle cx="898.5" cy="1667.9" r="6.1"/><circle cx="953.7" cy="1678.5" r="6.1"/><circle cx="950" cy="1680.7" r="6.1"/><circle cx="978.4" cy="1680.7" r="6.1"/><circle cx="908.1" cy="1694.7" r="6.1"/><circle cx="924.5" cy="1695.2" r="6.1"/><circle cx="1000.5" cy="1569.2" r="6.1"/><circle cx="1009.3" cy="1566.4" r="6.1"/><circle cx="1000" cy="1599.8" r="6.1"/><circle cx="1018.1" cy="1610.1" r="6.1"/><circle cx="1013" cy="1614.5" r="6.1"/><circle cx="1007.1" cy="1626.3" r="6.1"/><circle cx="996" cy="1632.9" r="6.1"/><circle cx="1032.1" cy="1634.8" r="6.1"/><circle cx="1023.3" cy="1645.9" r="6.1"/><circle cx="1072.6" cy="1646.2" r="6.1"/><circle cx="1150.8" cy="1648.7" r="6.1"/><circle cx="1009.6" cy="1653.5" r="6.1"/><circle cx="1023.3" cy="1662.3" r="6.1"/><circle cx="1025.5" cy="1667.5" r="6.1"/><circle cx="1046.8" cy="1677.5" r="6.1"/><circle cx="1071.1" cy="1678.5" r="6.1"/><circle cx="1085.1" cy="1677.8" r="6.1"/><circle cx="1103.5" cy="1680.7" r="6.1"/><circle cx="1064.2" cy="1695.7" r="6.1"/><circle cx="992.4" cy="1705" r="6.1"/><circle cx="1097.1" cy="1706.5" r="6.1"/><circle cx="1067.4" cy="1711.6" r="6.1"/><circle cx="1052.7" cy="1726.8" r="6.1"/><circle cx="1078.9" cy="1745.2" r="6.1"/><circle cx="1116" cy="1743.8" r="6.1"/><circle cx="1034" cy="1773.1" r="6.1"/><circle cx="1064.5" cy="1764.3" r="6.1"/><circle cx="1097.1" cy="1781.7" r="6.1"/><circle cx="1136.3" cy="1789.5" r="6.1"/><circle cx="1014.4" cy="1796.8" r="6.1"/><circle cx="1043.4" cy="1799" r="6.1"/><circle cx="1108.6" cy="1825.1" r="6.1"/><circle cx="1060.8" cy="1829.2" r="6.1"/><circle cx="1116.3" cy="1855.7" r="6.1"/><circle cx="1205.7" cy="1861.9" r="6.1"/><circle cx="1190.6" cy="1870.7" r="6.1"/><circle cx="974.3" cy="1761.1" r="6.1"/></g>
<g fill="#b23a9e"><circle cx="1067.4" cy="1631.1" r="6.1"/><circle cx="1115.7" cy="1649.1" r="6.1"/><circle cx="1152.3" cy="1658.2" r="6.1"/><circle cx="1045.8" cy="1669" r="6.1"/><circle cx="1115.7" cy="1713.8" r="6.1"/><circle cx="1165.3" cy="1715.3" r="6.1"/><circle cx="1029.1" cy="1761.8" r="6.1"/><circle cx="1174.5" cy="1768" r="6.1"/><circle cx="1183.9" cy="1778" r="6.1"/><circle cx="1135.8" cy="1783.6" r="6.1"/><circle cx="1149.8" cy="1786.8" r="6.1"/><circle cx="1123.3" cy="1794.2" r="6.1"/><circle cx="1215.6" cy="1797.9" r="6.1"/><circle cx="1148" cy="1804.8" r="6.1"/><circle cx="1134.1" cy="1827.6" r="6.1"/><circle cx="1187.6" cy="1825.1" r="6.1"/><circle cx="1215.6" cy="1829.8" r="6.1"/><circle cx="1237.1" cy="1835.1" r="6.1"/><circle cx="1229.6" cy="1845.4" r="6.1"/><circle cx="1224.1" cy="1872.9" r="6.1"/><circle cx="1216" cy="1878.8" r="6.1"/><circle cx="1231.8" cy="1907" r="6.1"/></g>
<circle cx="937.8" cy="1563" r="6.1" fill="#6cbe45"/>
<circle cx="962.1" cy="1569.2" r="6.1" fill="#6cbe45"/>
<circle cx="970.6" cy="1580.7" r="6.1" fill="#6cbe45"/>
<circle class="bg" cx="980.9" cy="1592.4" r="10.5" fill="#000000"/>
<circle class="bg" cx="1023.6" cy="1678.5" r="10.5" fill="#ed1c24"/>
<circle class="bg" cx="1005.6" cy="1666" r="10.5" fill="#6cbe45"/>
<circle class="bg" cx="1096.4" cy="1842" r="10.5" fill="#3a93d4"/>
<circle class="bg" cx="970.9" cy="1624.5" r="10.5" fill="#5bc8d5"/>
<circle class="bg" cx="1159.1" cy="1779.2" r="10.5" fill="#b23a9e"/>
<rect x="706.3" y="1796.5" width="141.5" height="169.5" fill="#bebebe"/>
<circle cx="723.9" cy="1820.3" r="5.1" fill="#000000"/>
<text class="l2" x="742.2" y="1827.2">islands</text>
<circle cx="723.9" cy="1844.5" r="5.1" fill="#ed1c24"/>
<text class="l2" x="742.2" y="1851.4">Svalbard</text>
<circle cx="723.9" cy="1868.7" r="5.1" fill="#6cbe45"/>
<text class="l2" x="742.2" y="1875.6">CoNo</text>
<circle cx="723.9" cy="1892.9" r="5.1" fill="#3a93d4"/>
<text class="l2" x="742.2" y="1899.8">Mountains</text>
<circle cx="723.9" cy="1917.1" r="5.1" fill="#5bc8d5"/>
<text class="l2" x="742.2" y="1924">NSF inland</text>
<circle cx="723.9" cy="1941.3" r="5.1" fill="#b23a9e"/>
<text class="l2" x="742.2" y="1948.2">GoBothnia</text>
<text class="ax" x="726.4" y="1993.9">0.0</text>
<text class="ax" transform="translate(687.4 1945.4) rotate(-90)">0.0</text>
<text class="ax" x="830.1" y="1993.9">0.2</text>
<text class="ax" transform="translate(687.4 1847.6) rotate(-90)">0.2</text>
<text class="ax" x="933.8" y="1993.9">0.4</text>
<text class="ax" transform="translate(687.4 1749.8) rotate(-90)">0.4</text>
<text class="ax" x="1037.5" y="1993.9">0.6</text>
<text class="ax" transform="translate(687.4 1652.1) rotate(-90)">0.6</text>
<text class="ax" x="1141.2" y="1993.9">0.8</text>
<text class="ax" transform="translate(687.4 1554.3) rotate(-90)">0.8</text>
<text class="ax" x="1244.9" y="1993.9">1.0</text>
<text class="ax" transform="translate(687.4 1456.5) rotate(-90)">1.0</text>
<text class="bl" x="985.7" y="2026.4">1 − False alarm rate</text>
<text class="bl" transform="translate(653.9 1700.5) rotate(-90)">Hit rate</text>
</g>
<g id="panel-i">
<text class="t2" x="1689.7" y="1413.7">(i) Wind extremes ERA5</text>
<rect class="fr" x="1410.7" y="1436.9" width="560" height="528.1"/>
<path class="as" d="M1431.4 1965H1949.9M1431.4 1965v8.5M1535.1 1965v8.5M1638.8 1965v8.5M1742.5 1965v8.5M1846.2 1965v8.5M1949.9 1965v8.5M1410.7 1945.4V1456.5M1410.7 1945.4h-8.5M1410.7 1847.6h-8.5M1410.7 1749.8h-8.5M1410.7 1652.1h-8.5M1410.7 1554.3h-8.5M1410.7 1456.5h-8.5"/>
<g fill="#000000"><circle cx="1597.6" cy="1520.3" r="6.1"/><circle cx="1662.4" cy="1661.6" r="6.1"/><circle cx="1818.3" cy="1634.8" r="6.1"/></g>
<g fill="#ed1c24"><circle cx="1891.3" cy="1713.1" r="6.1"/><circle cx="1798.9" cy="1750.8" r="6.1"/><circle cx="1838.9" cy="1823.3" r="6.1"/><circle cx="1765.3" cy="1887.6" r="6.1"/><circle cx="1810.4" cy="1916.6" r="6.1"/><circle cx="1852.6" cy="1905.3" r="6.1"/><circle cx="1843" cy="1908.9" r="6.1"/><circle cx="1848.9" cy="1911.2" r="6.1"/><circle cx="1846.3" cy="1943.5" r="6.1"/></g>
<g fill="#6cbe45"><circle cx="1542" cy="1485.8" r="6.1"/><circle cx="1675.9" cy="1616.7" r="6.1"/><circle cx="1673.8" cy="1700.6" r="6.1"/><circle cx="1757.2" cy="1603.9" r="6.1"/><circle cx="1765" cy="1686.3" r="6.1"/><circle cx="1777.8" cy="1688.8" r="6.1"/><circle cx="1749.3" cy="1710.9" r="6.1"/><circle cx="1745.2" cy="1722.8" r="6.1"/><circle cx="1857.3" cy="1729.9" r="6.1"/><circle cx="1876.9" cy="1802.7" r="6.1"/><circle cx="1825.4" cy="1827.7" r="6.1"/><circle cx="1910.4" cy="1833.6" r="6.1"/><circle cx="1875.4" cy="1849.4" r="6.1"/><circle cx="1799.3" cy="1851.6" r="6.1"/><circle cx="1902.2" cy="1860.4" r="6.1"/><circle cx="1939.4" cy="1865.1" r="6.1"/><circle cx="1919.3" cy="1889.8" r="6.1"/><circle cx="1945.6" cy="1895" r="6.1"/><circle cx="1798.2" cy="1907.5" r="6.1"/><circle cx="1848.2" cy="1904.5" r="6.1"/><circle cx="1873.9" cy="1922.9" r="6.1"/><circle cx="1933.5" cy="1919.2" r="6.1"/><circle cx="1844.5" cy="1928.1" r="6.1"/><circle cx="1877.6" cy="1932.5" r="6.1"/><circle cx="1928.4" cy="1937.6" r="6.1"/><circle cx="1950" cy="1944.3" r="6.1"/><circle cx="1820.2" cy="1943.5" r="6.1"/><circle cx="1860" cy="1939.1" r="6.1"/></g>
<g fill="#3a93d4"><circle cx="1950" cy="1936.9" r="6.1"/></g>
<g fill="#5bc8d5"><circle cx="1496.5" cy="1470.3" r="6.1"/><circle cx="1502" cy="1465.2" r="6.1"/><circle cx="1511.8" cy="1462.2" r="6.1"/><circle cx="1534.3" cy="1465.9" r="6.1"/><circle cx="1527.3" cy="1477.7" r="6.1"/><circle cx="1534.6" cy="1498.6" r="6.1"/><circle cx="1576.7" cy="1504.9" r="6.1"/><circle cx="1562.7" cy="1518.4" r="6.1"/><circle cx="1593.2" cy="1516.7" r="6.1"/><circle cx="1588" cy="1527.3" r="6.1"/><circle cx="1616.3" cy="1524.3" r="6.1"/><circle cx="1567.2" cy="1542.7" r="6.1"/><circle cx="1616" cy="1543.6" r="6.1"/><circle cx="1655" cy="1550.1" r="6.1"/><circle cx="1595.8" cy="1555.7" r="6.1"/><circle cx="1603.2" cy="1586.3" r="6.1"/><circle cx="1663.4" cy="1591.4" r="6.1"/><circle cx="1633.7" cy="1594.9" r="6.1"/><circle cx="1646.2" cy="1602" r="6.1"/><circle cx="1644" cy="1607.2" r="6.1"/><circle cx="1633.7" cy="1607.6" r="6.1"/><circle cx="1622.2" cy="1640" r="6.1"/><circle cx="1690.3" cy="1640.3" r="6.1"/><circle cx="1619.2" cy="1699.9" r="6.1"/><circle cx="1712.1" cy="1579.5" r="6.1"/><circle cx="1705.2" cy="1611.6" r="6.1"/><circle cx="1741.9" cy="1606.7" r="6.1"/><circle cx="1746.7" cy="1636.6" r="6.1"/><circle cx="1710.6" cy="1688.8" r="6.1"/><circle cx="1719.4" cy="1691" r="6.1"/><circle cx="1729" cy="1685.1" r="6.1"/><circle cx="1702.5" cy="1699.9" r="6.1"/><circle cx="1742.2" cy="1694.7" r="6.1"/><circle cx="1756.2" cy="1697.7" r="6.1"/><circle cx="1765" cy="1700.6" r="6.1"/><circle cx="1784.2" cy="1708.7" r="6.1"/><circle cx="1808.9" cy="1708" r="6.1"/><circle cx="1824.2" cy="1708.7" r="6.1"/><circle cx="1725" cy="1728" r="6.1"/><circle cx="1771.4" cy="1726.2" r="6.1"/><circle cx="1807.7" cy="1727.2" r="6.1"/><circle cx="1736.4" cy="1751.2" r="6.1"/><circle cx="1795.2" cy="1754.1" r="6.1"/><circle cx="1813.6" cy="1752.2" r="6.1"/><circle cx="1807.4" cy="1761.8" r="6.1"/><circle cx="1781.5" cy="1759.6" r="6.1"/><circle cx="1782.4" cy="1767" r="6.1"/><circle cx="1716.5" cy="1776.5" r="6.1"/><circle cx="1758.1" cy="1779.2" r="6.1"/><circle cx="1791.5" cy="1780.2" r="6.1"/><circle cx="1803.6" cy="1789" r="6.1"/><circle cx="1866.3" cy="1781.7" r="6.1"/><circle cx="1708.7" cy="1806.4" r="6.1"/><circle cx="1761.4" cy="1804.5" r="6.1"/><circle cx="1797.1" cy="1807.7" r="6.1"/><circle cx="1694.4" cy="1816.2" r="6.1"/><circle cx="1856.3" cy="1815.2" r="6.1"/><circle cx="1908.8" cy="1817.4" r="6.1"/><circle cx="1832.7" cy="1845.7" r="6.1"/><circle cx="1887.6" cy="1841" r="6.1"/><circle cx="1867.3" cy="1850.8" r="6.1"/><circle cx="1847" cy="1853.8" r="6.1"/><circle cx="1817.7" cy="1865.1" r="6.1"/><circle cx="1802.6" cy="1868.5" r="6.1"/><circle cx="1791.2" cy="1870" r="6.1"/><circle cx="1770.2" cy="1873.6" r="6.1"/><circle cx="1851.9" cy="1883.2" r="6.1"/><circle cx="1878.3" cy="1883.2" r="6.1"/><circle cx="1890.9" cy="1880.3" r="6.1"/><circle cx="1884.2" cy="1892" r="6.1"/><circle cx="1943.1" cy="1887.2" r="6.1"/><circle cx="1937.9" cy="1920.4" r="6.1"/><circle cx="1893.1" cy="1932.9" r="6.1"/><circle cx="1917.3" cy="1926.6" r="6.1"/><circle cx="1919.5" cy="1937.6" r="6.1"/><circle cx="1950" cy="1929.5" r="6.1"/><circle cx="1950" cy="1934.7" r="6.1"/><circle cx="1705.2" cy="1939.1" r="6.1"/><circle cx="1652.1" cy="1722.5" r="6.1"/><circle cx="1605" cy="1740.5" r="6.1"/><circle cx="1667.2" cy="1750.5" r="6.1"/><circle cx="1431.3" cy="1945.4" r="6.1"/></g>
<g fill="#b23a9e"><circle cx="1721.3" cy="1646.4" r="6.1"/><circle cx="1785.2" cy="1684.4" r="6.1"/><circle cx="1812.9" cy="1739" r="6.1"/><circle cx="1893.4" cy="1749.7" r="6.1"/><circle cx="1890.1" cy="1780.2" r="6.1"/><circle cx="1888.6" cy="1801.5" r="6.1"/><circle cx="1918.5" cy="1867.5" r="6.1"/><circle cx="1871.7" cy="1885.1" r="6.1"/><circle cx="1847.4" cy="1905.3" r="6.1"/><circle cx="1878.3" cy="1909.7" r="6.1"/><circle cx="1910.7" cy="1907.9" r="6.1"/><circle cx="1942.4" cy="1906.7" r="6.1"/><circle cx="1861.1" cy="1917.8" r="6.1"/><circle cx="1893.1" cy="1922.9" r="6.1"/><circle cx="1885" cy="1934.7" r="6.1"/><circle cx="1928.4" cy="1932.9" r="6.1"/><circle cx="1950" cy="1923.7" r="6.1"/><circle cx="1663.8" cy="1719.9" r="6.1"/></g>
<circle class="bg" cx="1692.9" cy="1605.4" r="10.5" fill="#000000"/>
<circle class="bg" cx="1775.8" cy="1882.5" r="10.5" fill="#ed1c24"/>
<circle class="bg" cx="1776.8" cy="1851.1" r="10.5" fill="#6cbe45"/>
<circle class="bg" cx="1488.7" cy="1945" r="10.5" fill="#3a93d4"/>
<circle class="bg" cx="1668.2" cy="1778.4" r="10.5" fill="#5bc8d5"/>
<circle class="bg" cx="1860" cy="1862.6" r="10.5" fill="#b23a9e"/>
<rect x="1411.3" y="1750" width="136.6" height="169" fill="#bebebe"/>
<circle cx="1424" cy="1773.8" r="5.1" fill="#000000"/>
<text class="l2" x="1442.3" y="1780.7">islands</text>
<circle cx="1424" cy="1798" r="5.1" fill="#ed1c24"/>
<text class="l2" x="1442.3" y="1804.9">Svalbard</text>
<circle cx="1424" cy="1822.2" r="5.1" fill="#6cbe45"/>
<text class="l2" x="1442.3" y="1829.1">CoNo</text>
<circle cx="1424" cy="1846.4" r="5.1" fill="#3a93d4"/>
<text class="l2" x="1442.3" y="1853.3">Mountains</text>
<circle cx="1424" cy="1870.6" r="5.1" fill="#5bc8d5"/>
<text class="l2" x="1442.3" y="1877.5">NSF inland</text>
<circle cx="1424" cy="1894.8" r="5.1" fill="#b23a9e"/>
<text class="l2" x="1442.3" y="1901.7">GoBothnia</text>
<text class="ax" x="1431.4" y="1993.9">0.0</text>
<text class="ax" transform="translate(1392.4 1945.4) rotate(-90)">0.0</text>
<text class="ax" x="1535.1" y="1993.9">0.2</text>
<text class="ax" transform="translate(1392.4 1847.6) rotate(-90)">0.2</text>
<text class="ax" x="1638.8" y="1993.9">0.4</text>
<text class="ax" transform="translate(1392.4 1749.8) rotate(-90)">0.4</text>
<text class="ax" x="1742.5" y="1993.9">0.6</text>
<text class="ax" transform="translate(1392.4 1652.1) rotate(-90)">0.6</text>
<text class="ax" x="1846.2" y="1993.9">0.8</text>
<text class="ax" transform="translate(1392.4 1554.3) rotate(-90)">0.8</text>
<text class="ax" x="1949.9" y="1993.9">1.0</text>
<text class="ax" transform="translate(1392.4 1456.5) rotate(-90)">1.0</text>
<text class="bl" x="1690.7" y="2026.4">1 − False alarm rate</text>
<text class="bl" transform="translate(1358.9 1700.5) rotate(-90)">Hit rate</text>
</g>
</svg></body></html>
